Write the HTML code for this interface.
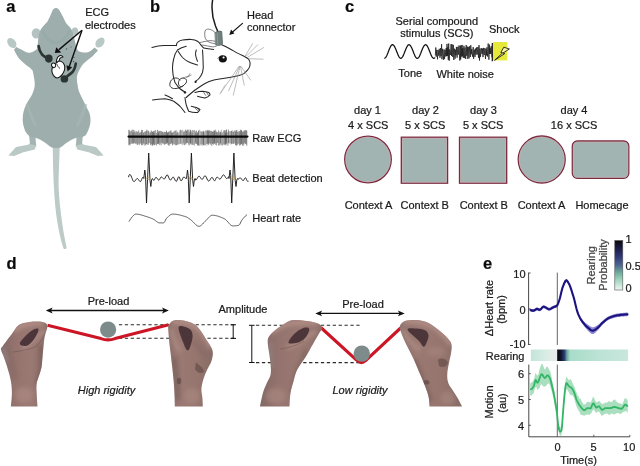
<!DOCTYPE html>
<html><head><meta charset="utf-8">
<style>
html,body{margin:0;padding:0;background:#fff;}
body{width:640px;height:466px;overflow:hidden;}
svg{display:block;will-change:transform;filter:blur(0.3px);}
text{font-family:"Liberation Sans",sans-serif;fill:#1a1a1a;stroke:#1a1a1a;stroke-width:0.22px;}
.lbl{font-weight:bold;font-size:16.5px;fill:#0a0a0a;}
.t11{font-size:11px;}
.t10{font-size:10px;}
</style></head><body>
<svg width="640" height="466" viewBox="0 0 640 466">
<!-- ===== Panel a ===== -->
<g id="pa">
  <!-- ears (behind) -->
  <ellipse cx="36.2" cy="33.4" rx="4.5" ry="5.2" fill="#b4c3c1"/>
  <ellipse cx="75" cy="31.6" rx="3.3" ry="4" fill="#b4c3c1"/>
  <!-- tail -->
  <path d="M52.7,146 C53,165 53.4,178 53.9,187 C54.6,200 55.6,212 57.4,222.5 C59,232 61,241 63.4,248.2 C64.2,249.6 66.4,249.4 66.6,247.6 C65,240 63.2,231 62.1,222.5 C60.6,211 59,199 58.6,187 C58.6,175 59.3,160 59.8,146 Z" fill="#bccbc8"/>
  <!-- feet -->
  <path d="M29.5,143.5 L28.1,144.7 L16,147 L8.4,155.5 L14,156 L23.4,152.2 L34.7,149.4 L36.3,145.6 L36,143.5 Z" fill="#bac9c6"/>
  <path d="M82.5,143.5 L83.9,144.7 L96,147 L103.6,155.5 L98,156 L88.6,152.2 L77.3,149.4 L75.7,145.6 L76,143.5 Z" fill="#bac9c6"/>
  <path d="M29,135 L30,144 L36.1,145.6 L35.5,137 Z M83,135 L82,144 L75.9,145.6 L76.5,137 Z" fill="#a3b4b2"/>
  <!-- paws -->
  <ellipse cx="11.8" cy="43" rx="3.9" ry="5.6" fill="#b8c8c5" transform="rotate(-38 11.8 43)"/>
  <ellipse cx="100" cy="42.5" rx="3.9" ry="5.6" fill="#b8c8c5" transform="rotate(38 100 42.5)"/>
  <!-- body -->
  <path d="M56,8 C57.8,8 59.2,9.5 59.8,11 L62.6,16.1 L65.2,21.5 C66.5,24 68,25.5 69.5,26.8 C71,28.5 72,30 72.2,31.1 C73.5,35 74.5,39 75.4,42.9 C76,46 77,49 78.2,51 C82,52.5 85,52.8 87.9,52.2 C90.5,51.3 92.5,49.7 94.5,47.5 L98,50.5 C96.3,52.3 94.8,54 93.3,55.4 C91,57.5 89,59 86.8,60.8 C84.5,62.5 82.2,65 80.8,67.5 C79,70.5 77.5,73 76.8,77.2 C76.8,80 77,83 77.7,85.8 C78,89 79,91.5 80.2,94.3 C81.5,97 83,100 84.5,102.9 C86,106 87.5,109 88.8,111.5 C90,114 90.5,117 90.5,120 C90.5,123 90,126 88.8,128.7 C88,131 87,133.5 85.4,135.5 C83,137 80,137.5 77,137.5 C72,139 66,143 62,146.5 C59,148.5 53,148.5 50,146.5 C46,143 40,139 35,137.5 C32,137.5 30,137 28.7,135.5 C26,133 25,131 24.4,128.7 C23.5,126 22.7,123 22.7,120 C22.7,117 23,114 23.6,111.5 C24.5,108 25.5,105.5 27,102.9 C29,99.5 31,97 32.2,94.3 C33.5,91 34.5,88.5 34.7,85.8 C34.8,82 34.5,80 33.9,77.2 C33.5,74 33,72 32.5,70.2 C31,68.5 29.5,67.5 27.3,65.9 C25,64 23,62.5 21.3,60.8 C19.5,59 18,57.5 17,55.6 C15.8,53.5 14.8,51.5 14,49.8 L16.2,47 C18,48 20,49 22.2,50 C24,51 25.5,52 27.3,52.6 C28.5,52.9 29.7,52.9 30.8,52.6 C32,52.3 33.2,51.7 34.2,50.9 C35.3,50.2 36.3,49.5 37.2,48.7 C37.3,46.5 37.5,44.5 37.9,42.9 C38,40.5 38.2,38.5 38.5,37 C38.8,35 39.3,33 40,31.1 C40.8,29.5 41.7,28 42.7,26.8 C44.5,25 46.2,23.2 47.5,21.5 L50.2,16.1 L52.4,10.7 C53,9.3 54.3,8 56,8 Z" fill="#9daeac"/>
  <!-- subtle shading -->
  <path d="M42,30 C45,38 50,42 56,43 C62,42 67,38 70,30" fill="none" stroke="#96a8a6" stroke-width="2.5" opacity="0.5"/>
  <path d="M27,104 C30,112 32,120 36,126 M86,104 C83,112 81,120 77,126" fill="none" stroke="#a6b7b5" stroke-width="3" opacity="0.6"/>
  <!-- electrodes -->
  <path d="M38.6,46 C39,49.5 40,52 42,54.5 C43.5,56 45,57 46.5,57.5" fill="none" stroke="#2b3534" stroke-width="2.6" stroke-linecap="round"/>
  <ellipse cx="48.8" cy="58.6" rx="3.8" ry="4.1" fill="#2b3534"/>
  <path d="M75.8,63.5 C75.2,67 74.5,70 72.5,72 C71,73.5 69.5,74.5 67.5,76" fill="none" stroke="#2b3534" stroke-width="2.6" stroke-linecap="round"/>
  <ellipse cx="64.4" cy="78.9" rx="3.8" ry="3.6" fill="#2b3534"/>
  <!-- heart -->
  <g fill="#fff" stroke="#161616" stroke-width="1.05" stroke-linejoin="round">
    <path d="M56.6,63.8 C56.2,60.5 57.2,57 59.6,55.8 C61,55.2 62.6,55.6 63,57 C61.8,57 60.6,57.4 59.8,58.6 C59,60 58.8,62 59,64"/>
    <path d="M53.2,65.5 C51.6,68.5 51.6,72.5 53.4,75.4 C54.8,77.4 56.8,78.4 58.6,77.6 C61.2,76.2 63.6,73 64.6,69.6 C65.4,66.6 64.2,63 61.6,61.6 C59.6,60.6 57.6,61.4 56.6,63 C55.4,62.8 54,63.8 53.2,65.5 Z"/>
    <path d="M51.8,63.8 C51,65.6 52,67.6 54,67.6 C55.6,67.2 56.2,65.2 55.2,63.8 C54.2,62.8 52.6,62.8 51.8,63.8 Z"/>
  </g>
  <path d="M56.8,64 C57.6,66 58.4,67.5 60,68.5" fill="none" stroke="#161616" stroke-width="0.8"/>
  <!-- dots -->
  <circle cx="66.5" cy="49" r="0.7" fill="#4d5a59"/><circle cx="74" cy="57.5" r="0.7" fill="#4d5a59"/><circle cx="73.5" cy="61.5" r="0.7" fill="#4d5a59"/><circle cx="71" cy="47" r="0.6" fill="#4d5a59"/>
  <!-- arrows -->
  <path d="M82,30.3 L59,49.6" stroke="#111" stroke-width="1.4"/>
  <path d="M54.8,53 L56.3,47.2 L61.2,52.4 Z" fill="#111"/>
  <path d="M82,30.3 L69.3,66.5" stroke="#111" stroke-width="1.4"/>
  <path d="M67.6,71.6 L66.4,65.2 L72.2,67.2 Z" fill="#111"/>
  <text class="lbl" x="6.3" y="11.7">a</text>
  <text x="85.2" y="16" style="font-size:11px">ECG</text>
  <text x="84.9" y="29" style="font-size:11px">electrodes</text>
</g>

<!-- ===== Panel b ===== -->
<g id="pb" fill="none" stroke="#333" stroke-width="0.7" stroke-linecap="round">
  <text class="lbl" x="149.9" y="11.7" stroke="none">b</text>
  <!-- arrow to connector -->
  <path d="M242.5,23.4 L232,32.5" stroke="#111" stroke-width="1.1"/>
  <path d="M229.3,35 L231,29.6 L234.4,33.4 Z" fill="#111" stroke="none"/>
  <text class="t11" x="247" y="18.7" stroke="none" style="font-size:11px">Head</text>
  <text class="t11" x="247" y="31.2" stroke="none" style="font-size:11px">connector</text>
  <!-- mouse line drawing -->
  <g stroke="#262626" stroke-width="1.05">
  <path d="M151.9,47.5 C156,46.5 160,45.8 163.75,45.6 C168,45.4 172,45.5 176.25,45.6"/>
  <path d="M176.25,45.6 C176.5,43.5 177.3,42.3 178.1,41.9 C179.5,40.7 181,40.2 182.5,40 C185.5,39.5 188.5,39.3 191.25,39.4 C194,39.6 196,40.3 197.5,41.25 C198.6,42 199.4,42.8 200,43.75 C201.2,45.3 202.4,46.9 203.75,48.1 C206.5,48.8 210,49.2 213.75,49.4"/>
  <path d="M178.1,51.25 C179.5,53.5 181,55.8 182.5,57.5 C185,60 187.5,61.5 190,62.5 C192.5,63.5 195,64.3 197.5,65"/>
  <path d="M196.25,50 C195.7,51.5 195.5,53.3 195.6,55 C195.9,57 196.6,59.2 197.5,61.25"/>
  <path d="M186.25,46.25 C183,47 180,48.3 177.5,50 C175.5,52.5 174.3,55.5 173.75,58.75 C173,61.5 172.6,64.5 172.5,67.5 C172.6,70 172.8,72.5 173.1,75 C173.5,77.5 174.2,80 175,82.5 C176.5,84.8 178,87 180,88.75 C181.5,90 183.2,91.2 185,91.9"/>
  <path d="M202.5,50 C202.8,54 203.1,58 203.1,62.5 C203.6,67 203.3,70 202.5,72.5 C201.5,75 200.3,77 198.75,78.75 C197.8,79.8 196.7,80.6 195.6,81.25"/>
  <path d="M180,80 C177,76 171,78 170,83 C169,87 172,89 176,88.5 C180,88 184,86 186,83 C187.5,80.5 186,78 183,78 C180,78 178,81 178.5,84 C179,86.5 181,87.5 183,86" stroke="#2a2a2a" stroke-width="0.95"/>
  <path d="M183,78 C185,77 187,76.5 189,76 M186.25,77.5 L191.25,75 M188,77 L190,73.5" stroke="#666" stroke-width="0.6"/>
  <path d="M221.6,44.7 C224.5,46 227,47.3 229.3,48.5 C232,50 234.5,51.5 237,52.9 C239.7,54.3 242.3,55.5 244.8,56.7 C246.3,57.5 247.6,58.3 248.6,59.2 C249.5,60.4 250,61.7 250.1,63 C250.1,64.4 249.9,65.7 249.6,66.9 C249.1,68 248.5,68.9 247.7,69.8 C246.5,71.2 245.2,72.5 243.8,73.6 C242.3,74.5 240.7,75.1 239,75.6 C235.8,76.4 232.5,77 229.3,77.5 C226,78 222.8,78.5 219.7,79 C217.7,79.3 215.8,79.6 213.9,80 C210.5,81 207.5,82.2 205,83.5 C201.5,85.5 198,88 195,90 C192,92.5 189,95 186.25,97.5"/>
  <path d="M195,92.5 C197.5,91.8 200,91.3 202.5,91.25 C204.5,91.4 206.8,91.8 208.75,92.5 C209.6,93.2 210.1,94 210,95 C208.5,96.5 206.8,97.5 205,98.1 C202.5,97.8 200,97 197.5,96.25"/>
  <path d="M203.5,92 L205.5,95.3 M206.5,92.2 L208.5,95.5" stroke-width="0.6"/>
  <path d="M185,97.5 C185.2,100 185.6,102.5 186.25,105 C187,107.3 187.8,109.3 188.75,111.25 C191.5,112.3 194.5,112.8 197.5,112.5 C198.6,111.6 199.5,110.5 200,109.4 C198.8,108.6 197.5,108 196.25,107.5 C194.5,107 192.8,106.6 191.25,106.25"/>
  <path d="M195,108 L197.5,110.5 M197.5,108.5 L199.5,110.8" stroke-width="0.6"/>
  <path d="M152.5,100 C156.5,99.4 160.7,99 165,98.75 C168,99.2 171,100 173.75,101.25 C176,102.8 178,104.5 180,106.25 C181.8,108.3 183.4,110.4 185,112.5"/>
  <path d="M165,95 C167.5,96 170,97.3 172.5,98.75"/>
  <path d="M215,32.5 C212,29.5 208,28 205.5,30 C204.3,32.5 204.5,36 205.5,38.75 C207,41 208.5,42 210,42.5 C211.8,43.2 213.4,43.6 215,43.75" stroke="#555" stroke-width="0.75"/>
  <path d="M200,42.5 C203.5,41.7 206.8,41 210,40.6 C211.7,40.6 213.3,40.9 215,41.25 M202.5,45 C205.8,45.6 209.1,46.3 212.5,46.9 C213.8,46.8 215,46.5 216.25,46.25" stroke="#555" stroke-width="0.75"/>
  <path d="M217.8,58.2 C219,57 220.5,56 222,56" stroke-width="0.6"/>
  </g>
  <circle cx="195.6" cy="81.9" r="1.1" fill="#222" stroke="none"/>
  <circle cx="185" cy="92.4" r="1.2" fill="#222" stroke="none"/>
  <!-- cable -->
  <path d="M212.6,0 C211.3,8 212.5,18 215.5,26 C216.6,28.5 217.5,30.5 218.2,32.5" stroke="#1c1c1c" stroke-width="1.5"/>
  <!-- connector -->
  <path d="M215.2,32.6 C216.5,31.2 220,30.6 221.8,31.6 L222.6,43.8 C221,45.6 217.4,46 215.8,45 Z" fill="#6f807d" stroke="#4c5856" stroke-width="0.6"/><path d="M217.2,33 L217.8,44.5" stroke="#8a9a97" stroke-width="1"/>
  <!-- eye -->
  <ellipse cx="222.8" cy="58.8" rx="4.1" ry="3.6" fill="#111" stroke="none"/>
  <circle cx="223.6" cy="57.5" r="1.1" fill="#fff" stroke="none"/>
  <!-- whiskers -->
  <g stroke="#888" stroke-width="0.55">
    <path d="M245.3,55.8 L252.5,43.7 M246.2,56.3 L257.8,44.7 M247.7,57.2 L263.6,47.6 M248.6,58.7 L263.1,59.2"/>
    <path d="M239,66.4 L220.5,93.3 M239.5,66.4 L228.7,90.6 M240,66.4 L233.3,95.1 M240.5,66.4 L244.2,85.1 M241,66.4 L250.6,80"/>
  </g>
  <path d="M220,93.75 L225,85" stroke="#999" stroke-width="0.5"/>
  <!-- ECG traces -->
  <g><path d="M128.60,130.3 L128.60,144.7" stroke="rgb(118,118,118)" stroke-width="0.6"/><path d="M129.37,130.3 L129.37,144.1" stroke="rgb(82,82,82)" stroke-width="0.6"/><path d="M129.91,132.4 L129.91,145.1" stroke="rgb(73,73,73)" stroke-width="0.6"/><path d="M130.64,131.4 L130.64,143.6" stroke="rgb(111,111,111)" stroke-width="0.6"/><path d="M131.62,130.9 L131.62,143.4" stroke="rgb(106,106,106)" stroke-width="0.6"/><path d="M132.23,130.0 L132.23,142.4" stroke="rgb(62,62,62)" stroke-width="0.6"/><path d="M132.85,132.9 L132.85,143.6" stroke="rgb(81,81,81)" stroke-width="0.6"/><path d="M133.73,130.1 L133.73,143.2" stroke="rgb(71,71,71)" stroke-width="0.6"/><path d="M134.23,132.1 L134.23,142.5" stroke="rgb(52,52,52)" stroke-width="0.6"/><path d="M135.02,131.0 L135.02,143.1" stroke="rgb(109,109,109)" stroke-width="0.6"/><path d="M135.59,132.7 L135.59,143.4" stroke="rgb(105,105,105)" stroke-width="0.6"/><path d="M136.50,131.4 L136.50,143.1" stroke="rgb(126,126,126)" stroke-width="0.6"/><path d="M137.00,132.7 L137.00,144.2" stroke="rgb(82,82,82)" stroke-width="0.6"/><path d="M137.53,132.2 L137.53,144.6" stroke="rgb(125,125,125)" stroke-width="0.6"/><path d="M138.13,131.8 L138.13,144.2" stroke="rgb(97,97,97)" stroke-width="0.6"/><path d="M138.69,130.6 L138.69,143.1" stroke="rgb(112,112,112)" stroke-width="0.6"/><path d="M139.45,132.9 L139.45,144.8" stroke="rgb(123,123,123)" stroke-width="0.6"/><path d="M140.00,133.1 L140.00,143.5" stroke="rgb(96,96,96)" stroke-width="0.6"/><path d="M140.98,132.5 L140.98,143.0" stroke="rgb(35,35,35)" stroke-width="0.6"/><path d="M141.63,130.3 L141.63,144.9" stroke="rgb(53,53,53)" stroke-width="0.6"/><path d="M142.56,130.4 L142.56,144.6" stroke="rgb(84,84,84)" stroke-width="0.6"/><path d="M143.47,133.1 L143.47,143.2" stroke="rgb(53,53,53)" stroke-width="0.6"/><path d="M144.22,132.3 L144.22,145.3" stroke="rgb(104,104,104)" stroke-width="0.6"/><path d="M144.87,131.9 L144.87,143.4" stroke="rgb(103,103,103)" stroke-width="0.6"/><path d="M145.61,131.8 L145.61,144.9" stroke="rgb(84,84,84)" stroke-width="0.6"/><path d="M146.13,131.5 L146.13,143.8" stroke="rgb(115,115,115)" stroke-width="0.6"/><path d="M146.80,130.1 L146.80,143.8" stroke="rgb(52,52,52)" stroke-width="0.6"/><path d="M147.66,131.2 L147.66,144.3" stroke="rgb(130,130,130)" stroke-width="0.6"/><path d="M148.32,131.1 L148.32,144.4" stroke="rgb(82,82,82)" stroke-width="0.6"/><path d="M148.82,131.7 L148.82,142.6" stroke="rgb(91,91,91)" stroke-width="0.6"/><path d="M149.68,133.0 L149.68,142.8" stroke="rgb(111,111,111)" stroke-width="0.6"/><path d="M150.58,132.6 L150.58,144.7" stroke="rgb(83,83,83)" stroke-width="0.6"/><path d="M151.22,130.8 L151.22,143.7" stroke="rgb(64,64,64)" stroke-width="0.6"/><path d="M152.01,131.9 L152.01,145.2" stroke="rgb(78,78,78)" stroke-width="0.6"/><path d="M152.67,132.3 L152.67,145.2" stroke="rgb(48,48,48)" stroke-width="0.6"/><path d="M153.40,131.3 L153.40,143.4" stroke="rgb(66,66,66)" stroke-width="0.6"/><path d="M153.96,133.0 L153.96,144.7" stroke="rgb(46,46,46)" stroke-width="0.6"/><path d="M154.57,131.1 L154.57,144.8" stroke="rgb(88,88,88)" stroke-width="0.6"/><path d="M155.53,130.4 L155.53,144.2" stroke="rgb(103,103,103)" stroke-width="0.6"/><path d="M156.47,133.2 L156.47,145.0" stroke="rgb(89,89,89)" stroke-width="0.6"/><path d="M157.40,130.2 L157.40,143.6" stroke="rgb(49,49,49)" stroke-width="0.6"/><path d="M158.28,133.0 L158.28,143.8" stroke="rgb(30,30,30)" stroke-width="0.6"/><path d="M158.76,131.3 L158.76,142.8" stroke="rgb(56,56,56)" stroke-width="0.6"/><path d="M159.58,131.3 L159.58,144.7" stroke="rgb(107,107,107)" stroke-width="0.6"/><path d="M160.20,131.2 L160.20,143.1" stroke="rgb(84,84,84)" stroke-width="0.6"/><path d="M161.08,131.7 L161.08,145.0" stroke="rgb(78,78,78)" stroke-width="0.6"/><path d="M162.01,131.8 L162.01,142.4" stroke="rgb(30,30,30)" stroke-width="0.6"/><path d="M162.65,132.5 L162.65,143.3" stroke="rgb(91,91,91)" stroke-width="0.6"/><path d="M163.46,132.8 L163.46,143.3" stroke="rgb(90,90,90)" stroke-width="0.6"/><path d="M164.22,132.1 L164.22,144.5" stroke="rgb(103,103,103)" stroke-width="0.6"/><path d="M165.01,132.5 L165.01,144.0" stroke="rgb(32,32,32)" stroke-width="0.6"/><path d="M165.76,132.7 L165.76,143.5" stroke="rgb(100,100,100)" stroke-width="0.6"/><path d="M166.42,131.1 L166.42,143.2" stroke="rgb(38,38,38)" stroke-width="0.6"/><path d="M167.35,132.8 L167.35,142.4" stroke="rgb(44,44,44)" stroke-width="0.6"/><path d="M167.86,132.9 L167.86,144.2" stroke="rgb(59,59,59)" stroke-width="0.6"/><path d="M168.52,132.1 L168.52,145.0" stroke="rgb(83,83,83)" stroke-width="0.6"/><path d="M169.33,132.3 L169.33,145.5" stroke="rgb(119,119,119)" stroke-width="0.6"/><path d="M170.02,131.4 L170.02,143.7" stroke="rgb(60,60,60)" stroke-width="0.6"/><path d="M170.96,130.7 L170.96,143.8" stroke="rgb(48,48,48)" stroke-width="0.6"/><path d="M171.75,132.9 L171.75,142.7" stroke="rgb(44,44,44)" stroke-width="0.6"/><path d="M172.54,132.9 L172.54,144.9" stroke="rgb(75,75,75)" stroke-width="0.6"/><path d="M173.38,132.4 L173.38,144.1" stroke="rgb(100,100,100)" stroke-width="0.6"/><path d="M174.20,131.1 L174.20,143.4" stroke="rgb(93,93,93)" stroke-width="0.6"/><path d="M175.04,131.6 L175.04,144.4" stroke="rgb(77,77,77)" stroke-width="0.6"/><path d="M175.99,130.6 L175.99,145.0" stroke="rgb(31,31,31)" stroke-width="0.6"/><path d="M176.91,133.2 L176.91,144.7" stroke="rgb(59,59,59)" stroke-width="0.6"/><path d="M177.47,131.9 L177.47,143.9" stroke="rgb(120,120,120)" stroke-width="0.6"/><path d="M178.04,132.8 L178.04,144.0" stroke="rgb(118,118,118)" stroke-width="0.6"/><path d="M178.93,132.9 L178.93,143.9" stroke="rgb(97,97,97)" stroke-width="0.6"/><path d="M179.69,130.6 L179.69,143.9" stroke="rgb(131,131,131)" stroke-width="0.6"/><path d="M180.64,130.1 L180.64,143.4" stroke="rgb(65,65,65)" stroke-width="0.6"/><path d="M181.16,130.4 L181.16,143.0" stroke="rgb(135,135,135)" stroke-width="0.6"/><path d="M181.90,131.2 L181.90,143.9" stroke="rgb(121,121,121)" stroke-width="0.6"/><path d="M182.76,130.2 L182.76,144.8" stroke="rgb(125,125,125)" stroke-width="0.6"/><path d="M183.48,132.1 L183.48,143.0" stroke="rgb(100,100,100)" stroke-width="0.6"/><path d="M184.33,131.7 L184.33,144.8" stroke="rgb(50,50,50)" stroke-width="0.6"/><path d="M185.33,130.0 L185.33,143.3" stroke="rgb(126,126,126)" stroke-width="0.6"/><path d="M185.91,130.2 L185.91,144.2" stroke="rgb(66,66,66)" stroke-width="0.6"/><path d="M186.61,131.4 L186.61,142.5" stroke="rgb(43,43,43)" stroke-width="0.6"/><path d="M187.58,130.1 L187.58,142.5" stroke="rgb(66,66,66)" stroke-width="0.6"/><path d="M188.43,130.0 L188.43,144.1" stroke="rgb(104,104,104)" stroke-width="0.6"/><path d="M189.23,132.6 L189.23,145.0" stroke="rgb(74,74,74)" stroke-width="0.6"/><path d="M190.01,130.1 L190.01,142.8" stroke="rgb(75,75,75)" stroke-width="0.6"/><path d="M190.60,130.7 L190.60,143.4" stroke="rgb(35,35,35)" stroke-width="0.6"/><path d="M191.18,131.0 L191.18,144.7" stroke="rgb(110,110,110)" stroke-width="0.6"/><path d="M191.96,132.9 L191.96,143.3" stroke="rgb(62,62,62)" stroke-width="0.6"/><path d="M192.59,130.4 L192.59,144.7" stroke="rgb(96,96,96)" stroke-width="0.6"/><path d="M193.44,130.9 L193.44,144.4" stroke="rgb(118,118,118)" stroke-width="0.6"/><path d="M194.42,130.3 L194.42,145.3" stroke="rgb(113,113,113)" stroke-width="0.6"/><path d="M195.14,131.4 L195.14,143.5" stroke="rgb(113,113,113)" stroke-width="0.6"/><path d="M195.63,133.1 L195.63,142.4" stroke="rgb(75,75,75)" stroke-width="0.6"/><path d="M196.34,130.9 L196.34,143.6" stroke="rgb(52,52,52)" stroke-width="0.6"/><path d="M197.08,132.9 L197.08,143.9" stroke="rgb(120,120,120)" stroke-width="0.6"/><path d="M197.63,132.8 L197.63,145.1" stroke="rgb(53,53,53)" stroke-width="0.6"/><path d="M198.47,131.0 L198.47,145.1" stroke="rgb(39,39,39)" stroke-width="0.6"/><path d="M199.36,130.1 L199.36,145.3" stroke="rgb(134,134,134)" stroke-width="0.6"/><path d="M200.24,131.2 L200.24,144.9" stroke="rgb(125,125,125)" stroke-width="0.6"/><path d="M201.12,132.1 L201.12,143.8" stroke="rgb(87,87,87)" stroke-width="0.6"/><path d="M202.11,131.7 L202.11,145.2" stroke="rgb(38,38,38)" stroke-width="0.6"/><path d="M202.89,132.3 L202.89,143.5" stroke="rgb(111,111,111)" stroke-width="0.6"/><path d="M203.50,131.2 L203.50,144.7" stroke="rgb(70,70,70)" stroke-width="0.6"/><path d="M204.10,132.7 L204.10,145.0" stroke="rgb(52,52,52)" stroke-width="0.6"/><path d="M204.94,131.3 L204.94,144.4" stroke="rgb(137,137,137)" stroke-width="0.6"/><path d="M205.88,130.7 L205.88,145.0" stroke="rgb(84,84,84)" stroke-width="0.6"/><path d="M206.65,131.1 L206.65,143.6" stroke="rgb(104,104,104)" stroke-width="0.6"/><path d="M207.55,130.8 L207.55,143.4" stroke="rgb(36,36,36)" stroke-width="0.6"/><path d="M208.03,130.2 L208.03,145.1" stroke="rgb(115,115,115)" stroke-width="0.6"/><path d="M208.69,131.6 L208.69,144.1" stroke="rgb(52,52,52)" stroke-width="0.6"/><path d="M209.16,130.6 L209.16,142.8" stroke="rgb(67,67,67)" stroke-width="0.6"/><path d="M209.84,130.8 L209.84,143.1" stroke="rgb(107,107,107)" stroke-width="0.6"/><path d="M210.50,131.6 L210.50,144.2" stroke="rgb(93,93,93)" stroke-width="0.6"/><path d="M211.28,131.8 L211.28,142.6" stroke="rgb(134,134,134)" stroke-width="0.6"/><path d="M211.76,131.2 L211.76,145.4" stroke="rgb(71,71,71)" stroke-width="0.6"/><path d="M212.65,132.2 L212.65,143.7" stroke="rgb(39,39,39)" stroke-width="0.6"/><path d="M213.55,132.0 L213.55,144.5" stroke="rgb(116,116,116)" stroke-width="0.6"/><path d="M214.02,130.6 L214.02,143.0" stroke="rgb(35,35,35)" stroke-width="0.6"/><path d="M214.54,131.6 L214.54,143.2" stroke="rgb(94,94,94)" stroke-width="0.6"/><path d="M215.01,130.9 L215.01,143.2" stroke="rgb(68,68,68)" stroke-width="0.6"/><path d="M215.57,130.0 L215.57,144.7" stroke="rgb(132,132,132)" stroke-width="0.6"/><path d="M216.04,131.8 L216.04,142.6" stroke="rgb(107,107,107)" stroke-width="0.6"/><path d="M216.65,132.1 L216.65,145.1" stroke="rgb(84,84,84)" stroke-width="0.6"/><path d="M217.24,132.8 L217.24,142.7" stroke="rgb(113,113,113)" stroke-width="0.6"/><path d="M217.90,132.6 L217.90,142.4" stroke="rgb(70,70,70)" stroke-width="0.6"/><path d="M218.64,130.5 L218.64,145.2" stroke="rgb(109,109,109)" stroke-width="0.6"/><path d="M219.12,131.9 L219.12,145.1" stroke="rgb(103,103,103)" stroke-width="0.6"/><path d="M219.99,133.0 L219.99,144.3" stroke="rgb(72,72,72)" stroke-width="0.6"/><path d="M220.66,132.3 L220.66,143.0" stroke="rgb(42,42,42)" stroke-width="0.6"/><path d="M221.28,130.2 L221.28,144.7" stroke="rgb(110,110,110)" stroke-width="0.6"/><path d="M222.25,133.1 L222.25,145.3" stroke="rgb(74,74,74)" stroke-width="0.6"/><path d="M223.18,131.6 L223.18,144.4" stroke="rgb(116,116,116)" stroke-width="0.6"/><path d="M224.11,130.5 L224.11,143.8" stroke="rgb(46,46,46)" stroke-width="0.6"/><path d="M224.65,131.7 L224.65,144.7" stroke="rgb(118,118,118)" stroke-width="0.6"/><path d="M225.31,130.6 L225.31,143.5" stroke="rgb(58,58,58)" stroke-width="0.6"/><path d="M225.79,133.2 L225.79,144.9" stroke="rgb(44,44,44)" stroke-width="0.6"/><path d="M226.51,130.0 L226.51,143.0" stroke="rgb(38,38,38)" stroke-width="0.6"/><path d="M226.98,133.1 L226.98,143.8" stroke="rgb(132,132,132)" stroke-width="0.6"/><path d="M227.92,132.3 L227.92,145.4" stroke="rgb(100,100,100)" stroke-width="0.6"/><path d="M228.41,130.0 L228.41,142.8" stroke="rgb(63,63,63)" stroke-width="0.6"/><path d="M229.27,131.7 L229.27,143.0" stroke="rgb(100,100,100)" stroke-width="0.6"/><path d="M230.25,131.5 L230.25,142.8" stroke="rgb(120,120,120)" stroke-width="0.6"/><path d="M231.03,131.6 L231.03,144.1" stroke="rgb(101,101,101)" stroke-width="0.6"/><path d="M231.58,131.4 L231.58,143.4" stroke="rgb(63,63,63)" stroke-width="0.6"/><path d="M232.15,130.3 L232.15,142.9" stroke="rgb(126,126,126)" stroke-width="0.6"/><path d="M233.06,132.3 L233.06,143.6" stroke="rgb(36,36,36)" stroke-width="0.6"/><path d="M234.00,131.5 L234.00,143.3" stroke="rgb(43,43,43)" stroke-width="0.6"/><path d="M234.86,130.5 L234.86,142.4" stroke="rgb(108,108,108)" stroke-width="0.6"/><path d="M235.60,132.1 L235.60,144.8" stroke="rgb(84,84,84)" stroke-width="0.6"/><path d="M236.09,130.9 L236.09,144.6" stroke="rgb(48,48,48)" stroke-width="0.6"/><path d="M236.77,130.2 L236.77,145.4" stroke="rgb(66,66,66)" stroke-width="0.6"/><path d="M237.77,132.3 L237.77,144.1" stroke="rgb(51,51,51)" stroke-width="0.6"/><path d="M238.29,131.3 L238.29,143.4" stroke="rgb(120,120,120)" stroke-width="0.6"/><path d="M238.99,132.7 L238.99,142.9" stroke="rgb(123,123,123)" stroke-width="0.6"/><path d="M239.62,131.5 L239.62,145.0" stroke="rgb(94,94,94)" stroke-width="0.6"/><path d="M240.10,131.5 L240.10,145.0" stroke="rgb(82,82,82)" stroke-width="0.6"/><path d="M240.65,130.0 L240.65,144.2" stroke="rgb(77,77,77)" stroke-width="0.6"/><path d="M241.39,130.4 L241.39,143.9" stroke="rgb(62,62,62)" stroke-width="0.6"/><path d="M241.89,131.3 L241.89,143.4" stroke="rgb(63,63,63)" stroke-width="0.6"/><path d="M242.73,132.5 L242.73,145.5" stroke="rgb(53,53,53)" stroke-width="0.6"/><path d="M243.34,131.9 L243.34,143.9" stroke="rgb(92,92,92)" stroke-width="0.6"/><path d="M243.83,130.9 L243.83,145.0" stroke="rgb(112,112,112)" stroke-width="0.6"/><path d="M244.65,131.0 L244.65,142.7" stroke="rgb(44,44,44)" stroke-width="0.6"/><path d="M245.11,131.2 L245.11,143.4" stroke="rgb(134,134,134)" stroke-width="0.6"/><path d="M245.84,130.4 L245.84,143.6" stroke="rgb(31,31,31)" stroke-width="0.6"/><path d="M246.74,131.0 L246.74,145.2" stroke="rgb(46,46,46)" stroke-width="0.6"/></g>
<path d="M128.6,136.6 L247.4,136.6" stroke="#0a0a0a" stroke-width="2.3"/>
<path d="M128.6,176.8 L129.1,175.2 L129.6,174.5 L130.1,174.5 L130.6,175.1 L131.1,176.0 L131.6,177.2 L132.1,178.6 L132.6,179.8 L133.1,180.8 L133.6,181.4 L134.1,181.6 L134.6,181.3 L135.1,180.8 L135.6,180.1 L136.1,179.4 L136.6,178.8 L137.1,178.5 L137.6,178.6 L138.1,179.1 L138.6,179.7 L139.1,180.5 L139.6,181.2 L140.1,181.5 L140.6,181.5 L141.1,180.8 L141.6,179.7 L142.1,178.4 L142.6,177.5 L143.1,177.3 L143.6,178.3 L143.8,178.5 L144.8,170.0 L145.5,175.5 L146.5,203.0 L148.7,153.0 L150.0,180.5 L150.8,186.5 L151.6,180.0 L152.4,178.5 L153.1,179.5 L153.6,180.3 L154.1,180.2 L154.6,179.4 L155.1,178.4 L155.6,177.6 L156.1,177.4 L156.6,177.7 L157.1,178.3 L157.6,179.0 L158.1,179.7 L158.6,180.1 L159.1,180.1 L159.6,179.5 L160.1,178.5 L160.6,177.6 L161.1,177.0 L161.6,177.0 L162.1,177.3 L162.6,177.9 L163.1,178.4 L163.6,178.9 L164.1,179.1 L164.6,178.8 L165.1,178.1 L165.6,177.0 L166.1,176.0 L166.6,175.2 L167.1,174.8 L167.6,175.1 L168.1,176.0 L168.6,177.1 L169.1,178.3 L169.6,179.4 L170.1,180.0 L170.6,180.1 L171.1,179.6 L171.6,178.8 L172.1,177.9 L172.6,177.3 L173.1,177.0 L173.6,177.3 L174.1,178.1 L174.6,179.1 L175.1,180.1 L175.6,180.9 L176.1,181.4 L176.6,181.2 L177.1,180.3 L177.6,178.9 L178.1,177.6 L178.6,176.8 L179.1,176.9 L179.6,177.9 L180.1,179.3 L180.6,180.4 L181.1,180.9 L181.6,180.6 L182.1,179.8 L182.6,178.7 L183.1,177.7 L183.6,177.1 L184.1,177.0 L184.6,177.4 L185.1,178.0 L185.6,178.4 L186.1,178.6 L186.5,178.5 L187.5,170.0 L188.2,175.5 L189.2,203.0 L191.4,153.0 L192.7,180.5 L193.5,186.5 L194.3,180.0 L195.1,178.5 L195.6,180.1 L196.1,180.0 L196.6,179.4 L197.1,178.6 L197.6,177.7 L198.1,176.9 L198.6,176.3 L199.1,176.2 L199.6,176.5 L200.1,177.1 L200.6,177.8 L201.1,178.6 L201.6,179.2 L202.1,179.4 L202.6,179.1 L203.1,178.4 L203.6,177.5 L204.1,176.6 L204.6,175.9 L205.1,175.8 L205.6,176.1 L206.1,176.9 L206.6,177.9 L207.1,179.0 L207.6,180.0 L208.1,180.7 L208.6,181.1 L209.1,181.0 L209.6,180.5 L210.1,179.7 L210.6,178.8 L211.1,178.0 L211.6,177.5 L212.1,177.4 L212.6,177.8 L213.1,178.7 L213.6,179.7 L214.1,180.5 L214.6,180.9 L215.1,180.4 L215.6,179.4 L216.1,178.2 L216.6,177.4 L217.1,177.1 L217.6,177.2 L218.1,177.7 L218.6,178.2 L219.1,178.8 L219.6,179.1 L220.1,179.1 L220.6,178.7 L221.1,178.0 L221.6,177.2 L222.1,176.3 L222.6,175.5 L223.1,175.0 L223.6,174.8 L224.1,175.1 L224.6,175.8 L225.1,176.6 L225.6,177.5 L226.1,178.2 L226.6,178.6 L227.1,178.6 L227.6,178.1 L228.1,177.4 L228.6,176.7 L229.0,178.5 L230.0,170.0 L230.7,175.5 L231.7,203.0 L233.9,153.0 L235.2,180.5 L236.0,186.5 L236.8,180.0 L237.6,178.5 L238.1,179.4 L238.6,179.0 L239.1,178.5 L239.6,177.9 L240.1,177.8 L240.6,178.0 L241.1,178.5 L241.6,179.2 L242.1,179.9 L242.6,180.4 L243.1,180.6 L243.6,180.4 L244.1,179.6 L244.6,178.6 L245.1,177.9 L245.6,177.8 L246.1,178.5 L246.6,179.6 L247.1,180.7 L247.6,181.4 L248.1,181.3" stroke="#1a1a1a" stroke-width="0.95" fill="none" stroke-linejoin="round"/>
<circle cx="148.10000000000002" cy="178.3" r="1.3" fill="none" stroke="#b8913a" stroke-width="0.6"/>
<circle cx="190.8" cy="178.3" r="1.3" fill="none" stroke="#b8913a" stroke-width="0.6"/>
<circle cx="233.3" cy="178.3" r="1.3" fill="none" stroke="#b8913a" stroke-width="0.6"/>
<path d="M129.1,221.3 L129.8,220.2 L130.5,219.2 L131.2,218.2 L131.9,217.2 L132.6,216.4 L133.3,215.6 L134.0,215.0 L134.7,214.5 L135.4,214.2 L136.1,214.1 L136.8,214.1 L137.5,214.2 L138.2,214.3 L138.9,214.4 L139.6,214.5 L140.3,214.7 L141.0,214.9 L141.7,215.1 L142.4,215.3 L143.1,215.5 L143.8,215.7 L144.5,216.0 L145.2,216.2 L145.9,216.4 L146.6,216.6 L147.3,216.8 L148.0,217.0 L148.7,217.3 L149.4,217.5 L150.1,217.8 L150.8,218.1 L151.5,218.4 L152.2,218.7 L152.9,219.0 L153.6,219.3 L154.3,219.7 L155.0,220.2 L155.7,220.8 L156.4,221.4 L157.1,221.9 L157.8,222.4 L158.5,222.7 L159.2,222.9 L159.9,222.9 L160.6,222.9 L161.3,222.9 L162.0,222.9 L162.7,222.9 L163.4,222.9 L164.1,222.6 L164.8,221.5 L165.5,220.1 L166.2,218.7 L166.9,217.9 L167.6,217.2 L168.3,216.6 L169.0,215.9 L169.7,215.4 L170.4,214.9 L171.1,214.5 L171.8,214.2 L172.5,214.1 L173.2,214.1 L173.9,214.1 L174.6,214.2 L175.3,214.2 L176.0,214.3 L176.7,214.4 L177.4,214.5 L178.1,214.7 L178.8,214.8 L179.5,214.9 L180.2,215.1 L180.9,215.3 L181.6,215.5 L182.3,215.7 L183.0,215.9 L183.7,216.1 L184.4,216.3 L185.1,216.5 L185.8,216.8 L186.5,217.0 L187.2,217.4 L187.9,217.8 L188.6,218.3 L189.3,218.7 L190.0,219.2 L190.7,219.7 L191.4,220.3 L192.1,221.0 L192.8,221.7 L193.5,222.4 L194.2,223.1 L194.9,223.8 L195.6,224.5 L196.3,225.1 L197.0,225.6 L197.7,226.0 L198.4,226.2 L199.1,226.3 L199.8,226.2 L200.5,225.8 L201.2,225.3 L201.9,224.7 L202.6,224.0 L203.3,223.2 L204.0,222.5 L204.7,221.7 L205.4,221.1 L206.1,220.5 L206.8,219.7 L207.5,218.9 L208.2,218.1 L208.9,217.3 L209.6,216.6 L210.3,216.0 L211.0,215.6 L211.7,215.3 L212.4,215.2 L213.1,215.2 L213.8,215.3 L214.5,215.4 L215.2,215.5 L215.9,215.6 L216.6,215.8 L217.3,216.0 L218.0,216.2 L218.7,216.4 L219.4,216.7 L220.1,216.9 L220.8,217.2 L221.5,217.5 L222.2,217.8 L222.9,218.1 L223.6,218.4 L224.3,218.7 L225.0,219.1 L225.7,219.6 L226.4,220.3 L227.1,221.0 L227.8,221.9 L228.5,222.7 L229.2,223.5 L229.9,224.3 L230.6,224.9 L231.3,225.4 L232.0,225.8 L232.7,225.9 L233.4,225.9 L234.1,225.9 L234.8,225.8 L235.5,225.8 L236.2,225.7 L236.9,225.6 L237.6,225.5 L238.3,225.4 L239.0,225.2 L239.7,224.4 L240.4,223.0 L241.1,221.4 L241.8,220.2 L242.5,219.3 L243.2,218.4 L243.9,217.6 L244.6,216.8 L245.3,216.1 L246.0,215.5 L246.7,214.9" stroke="#4a4a4a" stroke-width="0.9" fill="none"/>
  <text class="t11" x="252.3" y="142.2" stroke="none" style="font-size:11px">Raw ECG</text>
  <text class="t11" x="252.3" y="182.3" stroke="none" style="font-size:11px">Beat detection</text>
  <text class="t11" x="252.3" y="222.4" stroke="none" style="font-size:11px">Heart rate</text>
</g>

<!-- ===== Panel c ===== -->
<g id="pc">
  <text class="lbl" x="345" y="12.4">c</text>
  <text x="436.8" y="25" text-anchor="middle" style="font-size:11px">Serial compound</text>
  <text x="436.8" y="37" text-anchor="middle" style="font-size:11px">stimulus (SCS)</text>
  <text x="504.3" y="33.2" text-anchor="middle" style="font-size:11px">Shock</text>
  <path d="M384.3,58.3 L384.7,58.2 L385.1,58.0 L385.5,57.6 L385.9,57.1 L386.3,56.4 L386.7,55.7 L387.1,54.8 L387.5,53.8 L387.9,52.9 L388.3,51.8 L388.7,50.8 L389.1,49.8 L389.5,48.8 L389.9,47.9 L390.3,47.0 L390.7,46.3 L391.1,45.7 L391.5,45.2 L391.9,44.9 L392.3,44.7 L392.7,44.7 L393.1,44.8 L393.5,45.1 L393.9,45.6 L394.3,46.2 L394.7,46.9 L395.1,47.7 L395.5,48.6 L395.9,49.5 L396.3,50.5 L396.7,51.6 L397.1,52.6 L397.5,53.6 L397.9,54.6 L398.3,55.4 L398.7,56.2 L399.1,56.9 L399.5,57.5 L399.9,57.9 L400.3,58.2 L400.7,58.3 L401.1,58.3 L401.5,58.1 L401.9,57.7 L402.3,57.2 L402.7,56.6 L403.1,55.9 L403.5,55.0 L403.9,54.1 L404.3,53.1 L404.7,52.1 L405.1,51.0 L405.5,50.0 L405.9,49.0 L406.3,48.1 L406.7,47.2 L407.1,46.5 L407.5,45.9 L407.9,45.3 L408.3,45.0 L408.7,44.8 L409.1,44.7 L409.5,44.8 L409.9,45.1 L410.3,45.5 L410.7,46.0 L411.1,46.7 L411.5,47.5 L411.9,48.3 L412.3,49.3 L412.7,50.3 L413.1,51.3 L413.5,52.3 L413.9,53.4 L414.3,54.3 L414.7,55.2 L415.1,56.1 L415.5,56.8 L415.9,57.4 L416.3,57.8 L416.7,58.1 L417.1,58.3 L417.5,58.3 L417.9,58.1 L418.3,57.8 L418.7,57.4 L419.1,56.8 L419.5,56.1 L419.9,55.2 L420.3,54.3 L420.7,53.4 L421.1,52.3 L421.5,51.3 L421.9,50.3 L422.3,49.3 L422.7,48.3 L423.1,47.5 L423.5,46.7 L423.9,46.0 L424.3,45.5 L424.7,45.1 L425.1,44.8 L425.5,44.7 L425.9,44.8 L426.3,45.0 L426.7,45.3 L427.1,45.9 L427.5,46.5 L427.9,47.2 L428.3,48.1 L428.7,49.0 L429.1,50.0 L429.5,51.0 L429.9,52.1 L430.3,53.1 L430.7,54.1 L431.1,55.0 L431.5,55.9 L431.9,56.6 L432.3,57.2 L432.7,57.7 L433.1,58.1 L433.5,58.3 L433.9,58.3 L434.3,58.2 L434.7,57.9 L435.1,57.5" stroke="#111" stroke-width="1.25" fill="none"/>
  <path d="M435.3,55.4 L435.8,47.5 L436.2,56.7 L436.8,49.9 L437.5,59.3 L438.0,50.0 L438.7,55.7 L439.2,48.9 L440.0,57.8 L440.4,48.1 L441.0,56.0 L441.6,44.2 L441.9,59.2 L442.6,48.8 L443.4,59.8 L444.0,49.4 L444.5,59.1 L445.1,49.8 L445.8,56.5 L446.2,48.0 L446.6,56.1 L447.0,43.9 L447.4,55.9 L447.8,47.2 L448.3,59.8 L448.7,43.5 L449.2,60.7 L449.7,49.5 L450.4,55.0 L451.1,44.0 L451.5,56.0 L452.1,44.3 L452.8,57.0 L453.3,44.9 L453.8,60.0 L454.5,48.7 L455.1,58.7 L455.7,49.7 L456.0,55.3 L456.4,46.9 L457.1,57.7 L457.8,46.8 L458.3,54.7 L459.0,45.5 L459.8,60.5 L460.2,45.8 L460.7,59.4 L461.1,45.2 L461.7,56.7 L462.1,44.9 L462.4,56.3 L462.8,48.0 L463.3,57.9 L463.9,45.8 L464.4,58.1 L465.0,47.5 L465.7,59.0 L466.2,45.0 L466.8,55.8 L467.4,46.7 L467.8,58.9 L468.3,46.8 L469.0,58.4 L469.6,46.3 L470.3,57.0 L470.8,45.2 L471.2,54.3 L471.7,49.1 L472.5,56.7 L473.2,47.1 L473.6,58.8 L474.3,49.7 L475.0,56.9 L475.4,48.5 L476.0,54.6 L476.6,47.4 L477.2,54.6 L477.9,47.0 L478.5,57.9 L479.0,45.1 L479.5,60.5 L480.0,48.6 L480.5,56.8 L481.3,48.1 L482.0,53.9 L482.4,48.5 L483.0,57.1 L483.5,47.9 L484.2,55.0 L484.9,48.0 L485.5,59.0 L486.0,49.0 L486.5,55.4 L486.9,47.3 L487.5,56.5 L488.2,43.5 L488.9,59.7 L489.4,44.6 L489.7,54.0 L490.1,47.9 L490.7,54.0 L491.2,46.2 L491.9,57.4" stroke="#151515" stroke-width="0.75" fill="none"/><path d="M492.3,43 L492.3,61.2" stroke="#111" stroke-width="1.2"/>
  <rect x="493" y="42" width="14.3" height="18.4" fill="#e6e83a"/>
  <path d="M509.4,49 L503.8,47.2 L500.8,52.6 L502.6,52.9 L494.6,60.3 L504.7,53.6 L502.9,53.1 Z" fill="#f4f4a0" stroke="#1c1c1c" stroke-width="0.9" stroke-linejoin="miter"/>
  <text x="410.3" y="76.6" text-anchor="middle" style="font-size:11px">Tone</text>
  <text x="465.2" y="77.5" text-anchor="middle" style="font-size:11px">White noise</text>
  <g style="font-size:11px" text-anchor="middle">
    <text x="367.5" y="114">day 1</text>
    <text x="425.5" y="114">day 2</text>
    <text x="483.5" y="114">day 3</text>
    <text x="574" y="114">day 4</text>
    <text x="368.3" y="128.7">4 x SCS</text>
    <text x="425.2" y="128.7">5 x SCS</text>
    <text x="483.1" y="128.7">5 x SCS</text>
    <text x="574.1" y="128.7">16 x SCS</text>
    <text x="368.5" y="209.2">Context A</text>
    <text x="424.7" y="209.2">Context B</text>
    <text x="483.8" y="209.2">Context B</text>
    <text x="541.5" y="209.2">Context A</text>
    <text x="602" y="209.2">Homecage</text>
  </g>
  <g fill="#a1b4b2" stroke="#7c2a3e" stroke-width="1.3">
    <circle cx="368" cy="159.5" r="23.3"/>
    <rect x="401.3" y="137.2" width="46.3" height="46"/>
    <rect x="459.5" y="137.2" width="47.2" height="46"/>
    <circle cx="541.7" cy="159.5" r="23.5"/>
    <rect x="572.3" y="141" width="56.5" height="37.3" rx="5" ry="5"/>
  </g>
  <g fill="none" stroke="#d9a9b3" stroke-width="0.6" opacity="0.9">
    <circle cx="368" cy="159.5" r="22.3"/>
    <rect x="402.3" y="138.2" width="44.3" height="44"/>
    <rect x="460.5" y="138.2" width="45.2" height="44"/>
    <circle cx="541.7" cy="159.5" r="22.5"/>
    <rect x="573.3" y="142" width="54.5" height="35.3" rx="4" ry="4"/>
  </g>
</g>

<!-- ===== Panel d ===== -->
<g id="pd">
  <text class="lbl" x="6.4" y="269">d</text>
  <!-- left panel -->
  <text x="108.5" y="304.8" text-anchor="middle" style="font-size:11px">Pre-load</text>
  <path d="M50,310.5 L165,310.5" stroke="#111" stroke-width="1.3"/>
  <path d="M45.8,310.5 L52.6,307.6 L51,310.5 L52.6,313.4 Z M168.8,310.5 L162,307.6 L163.6,310.5 L162,313.4 Z" fill="#111"/>
  <path d="M118.9,324.7 L236,324.7 M118.9,338.3 L236,338.3" stroke="#2a2a2a" stroke-width="1.1" stroke-dasharray="3.3,2.6"/>
  <path d="M47.5,325.2 L101,338.6 Q108,341.2 115,338.6 L168.6,324.8" fill="none" stroke="#cc1626" stroke-width="3.1" stroke-linejoin="round"/>
  <circle cx="108.1" cy="329.6" r="8.1" fill="#7d8c8b"/>
  <text x="106.5" y="393.9" text-anchor="middle" font-style="italic" style="font-size:11px">High rigidity</text>
  <!-- amplitude -->
  <text x="243" y="313.4" text-anchor="middle" style="font-size:11px">Amplitude</text>
  <path d="M233.2,324.8 L233.2,338.4 M230.5,324.8 L236,324.8 M230.5,338.4 L236,338.4" stroke="#111" stroke-width="1"/>
  <path d="M251.8,325.3 L251.8,362.5 M249,325.3 L254.6,325.3 M249,362.5 L254.6,362.5" stroke="#111" stroke-width="1"/>
  <!-- right panel -->
  <text x="363" y="307.5" text-anchor="middle" style="font-size:11px">Pre-load</text>
  <path d="M319,313.4 L401,313.4" stroke="#111" stroke-width="1.3"/>
  <path d="M315.3,313.4 L322.1,310.5 L320.5,313.4 L322.1,316.3 Z M404.7,313.4 L397.9,310.5 L399.5,313.4 L397.9,316.3 Z" fill="#111"/>
  <path d="M256,325.3 L362,325.3 M256,362.6 L362,362.6" stroke="#2a2a2a" stroke-width="1.1" stroke-dasharray="3.3,2.6"/>
  <path d="M320.8,327.5 L356.3,359.8 Q360.8,364.8 365.6,360.6 L400.6,328" fill="none" stroke="#cc1626" stroke-width="3.1" stroke-linejoin="round"/>
  <circle cx="361.8" cy="353.6" r="8.2" fill="#7d8c8b"/>
  <defs>
  <filter id="hb" x="-20%" y="-20%" width="140%" height="140%"><feGaussianBlur stdDeviation="2"/></filter>
  <linearGradient id="hg1" x1="0" y1="0" x2="1" y2="0">
    <stop offset="0" stop-color="#836864"/><stop offset="0.3" stop-color="#94736e"/><stop offset="0.65" stop-color="#9b7973"/><stop offset="1" stop-color="#8c6e69"/>
  </linearGradient>
  <linearGradient id="hg2" x1="1" y1="0" x2="0" y2="0">
    <stop offset="0" stop-color="#876c67"/><stop offset="0.35" stop-color="#96756e"/><stop offset="0.7" stop-color="#9b7973"/><stop offset="1" stop-color="#8d6f6a"/>
  </linearGradient>
</defs>
<clipPath id="hc1"><path d="M18.8,324.9 C21.8,322.9 25.7,322.5 29.6,322.0 C33.6,321.5 39.5,321.4 42.5,322.0 C45.5,322.6 47.1,323.3 47.4,325.9 C47.7,328.5 45.3,332.5 44.5,337.8 C43.7,343.1 43.0,352.6 42.5,357.5 C42.0,362.4 42.2,364.1 41.5,367.4 C40.8,370.7 39.3,374.5 38.5,377.3 C37.7,380.1 36.9,381.1 36.6,384.0 C36.3,386.9 36.6,391.2 36.8,395.0 C36.9,398.8 37.3,403.1 37.5,406.5 C29.5,406.5 18.9,406.5 10.9,406.5 C11.2,402.5 11.9,397.3 11.9,393.1 C11.9,388.9 11.6,385.1 10.9,381.2 C10.2,377.2 9.1,373.3 7.9,369.4 C6.8,365.4 5.2,360.8 4.0,357.5 C2.8,354.2 1.2,351.6 1.0,349.6 C0.8,347.6 1.2,348.3 3.0,345.7 C4.8,343.1 9.3,337.3 11.9,333.8 C14.5,330.3 15.8,326.9 18.8,324.9 Z"/></clipPath>
<g><path d="M18.8,324.9 C21.8,322.9 25.7,322.5 29.6,322.0 C33.6,321.5 39.5,321.4 42.5,322.0 C45.5,322.6 47.1,323.3 47.4,325.9 C47.7,328.5 45.3,332.5 44.5,337.8 C43.7,343.1 43.0,352.6 42.5,357.5 C42.0,362.4 42.2,364.1 41.5,367.4 C40.8,370.7 39.3,374.5 38.5,377.3 C37.7,380.1 36.9,381.1 36.6,384.0 C36.3,386.9 36.6,391.2 36.8,395.0 C36.9,398.8 37.3,403.1 37.5,406.5 C29.5,406.5 18.9,406.5 10.9,406.5 C11.2,402.5 11.9,397.3 11.9,393.1 C11.9,388.9 11.6,385.1 10.9,381.2 C10.2,377.2 9.1,373.3 7.9,369.4 C6.8,365.4 5.2,360.8 4.0,357.5 C2.8,354.2 1.2,351.6 1.0,349.6 C0.8,347.6 1.2,348.3 3.0,345.7 C4.8,343.1 9.3,337.3 11.9,333.8 C14.5,330.3 15.8,326.9 18.8,324.9 Z" fill="url(#hg1)"/>
<g clip-path="url(#hc1)"><g filter="url(#hb)">
  <path d="M14,331 C20,325 30,322.5 44,323.5" fill="none" stroke="#b8978e" stroke-width="4" opacity="0.85"/>
  <path d="M22,348 C28,345 36,338 45,330" fill="none" stroke="#b09088" stroke-width="4.5" opacity="0.8"/>
  <ellipse cx="24" cy="395" rx="9" ry="8" fill="#a98980" opacity="0.7"/>
  <path d="M41,345 L41.5,368 L37,385" fill="none" stroke="#6a514d" stroke-width="4" opacity="0.6"/>
  <path d="M8,350 C12,360 14,370 16,380" fill="none" stroke="#7a605b" stroke-width="4" opacity="0.4"/>
  <path d="M2,347 C3.5,352 5,356 7,362" fill="none" stroke="#9aa0a6" stroke-width="2.2" opacity="0.7"/>
  </g>
  <path d="M13,352 C20,351 28,350 35,347 C39,344 42,340 45,334" fill="none" stroke="#6e5550" stroke-width="1" opacity="0.5"/></g>
<path d="M19.8,343.7 C19.8,341.9 24.2,337.3 26.7,334.8 C29.2,332.3 32.6,329.7 34.6,328.9 C36.6,328.1 38.7,328.1 38.5,329.9 C38.3,331.7 35.6,337.1 33.6,339.7 C31.6,342.3 29.0,345.0 26.7,345.7 C24.4,346.4 19.8,345.5 19.8,343.7 Z" fill="#4c363a"/></g>
<clipPath id="hc2"><path d="M168.9,324.9 C169.8,323.3 171.0,321.0 173.8,320.4 C176.6,319.8 182.1,320.2 185.7,321.0 C189.3,321.8 192.9,323.1 195.5,324.9 C198.1,326.7 199.6,329.3 201.4,331.8 C203.2,334.3 204.8,337.1 206.4,339.7 C208.1,342.3 210.2,345.3 211.3,347.6 C212.4,349.9 212.9,351.2 212.9,353.5 C212.9,355.8 212.2,358.8 211.3,361.4 C210.4,364.0 208.7,366.3 207.4,369.3 C206.1,372.3 204.4,375.9 203.4,379.2 C202.4,382.5 201.6,385.9 201.4,389.0 C201.2,392.1 202.2,395.1 202.4,398.0 C202.6,400.9 202.7,403.9 202.8,406.5 C194.4,406.5 183.2,406.5 174.8,406.5 C174.7,403.1 174.7,398.9 174.5,395.0 C174.3,391.1 174.2,388.4 173.8,383.1 C173.4,377.8 172.5,369.3 171.8,363.4 C171.2,357.5 170.5,353.2 169.9,347.6 C169.3,342.0 168.5,333.6 168.3,329.8 C168.1,326.0 168.0,326.5 168.9,324.9 Z"/></clipPath>
<g><path d="M168.9,324.9 C169.8,323.3 171.0,321.0 173.8,320.4 C176.6,319.8 182.1,320.2 185.7,321.0 C189.3,321.8 192.9,323.1 195.5,324.9 C198.1,326.7 199.6,329.3 201.4,331.8 C203.2,334.3 204.8,337.1 206.4,339.7 C208.1,342.3 210.2,345.3 211.3,347.6 C212.4,349.9 212.9,351.2 212.9,353.5 C212.9,355.8 212.2,358.8 211.3,361.4 C210.4,364.0 208.7,366.3 207.4,369.3 C206.1,372.3 204.4,375.9 203.4,379.2 C202.4,382.5 201.6,385.9 201.4,389.0 C201.2,392.1 202.2,395.1 202.4,398.0 C202.6,400.9 202.7,403.9 202.8,406.5 C194.4,406.5 183.2,406.5 174.8,406.5 C174.7,403.1 174.7,398.9 174.5,395.0 C174.3,391.1 174.2,388.4 173.8,383.1 C173.4,377.8 172.5,369.3 171.8,363.4 C171.2,357.5 170.5,353.2 169.9,347.6 C169.3,342.0 168.5,333.6 168.3,329.8 C168.1,326.0 168.0,326.5 168.9,324.9 Z" fill="url(#hg2)"/>
<g clip-path="url(#hc2)"><g filter="url(#hb)">
  <path d="M172,322.5 C182,320.5 194,323 201,331 C205,337 208,342 211,348" fill="none" stroke="#b8978e" stroke-width="4" opacity="0.85"/>
  <path d="M171,328 C173,338 176,346 180,352" fill="none" stroke="#b09088" stroke-width="4.5" opacity="0.75"/>
  <path d="M174,358 L177,382 L178,400" fill="none" stroke="#6a514d" stroke-width="5" opacity="0.5"/>
  <path d="M193,340 C197,348 200,352 206,356" fill="none" stroke="#7a605b" stroke-width="3" opacity="0.45"/>
  <ellipse cx="192" cy="396" rx="8" ry="8" fill="#a98980" opacity="0.65"/>
  </g>
  <path d="M196,362 C198,365 203,366 204,372 C201,374 197,373 195,369 Z" fill="#664e49" opacity="0.7"/>
  <ellipse cx="179" cy="381" rx="2.2" ry="3.2" fill="#5f4844" opacity="0.7"/></g>
<path d="M178.7,326.9 C179.7,324.4 187.3,327.4 189.6,328.9 C191.9,330.4 192.4,333.0 192.6,335.8 C192.8,338.6 191.4,343.1 190.6,345.6 C189.8,348.1 188.8,350.9 187.6,350.6 C186.4,350.3 185.2,347.6 183.7,343.7 C182.2,339.8 177.7,329.4 178.7,326.9 Z" fill="#4c363a"/></g>
<clipPath id="hc3"><path d="M268.8,336.8 C270.1,334.5 272.9,332.1 275.7,329.8 C278.5,327.5 282.6,324.5 285.6,322.9 C288.6,321.3 289.9,320.3 293.5,320.0 C297.1,319.7 303.0,320.4 307.3,321.0 C311.6,321.6 316.6,322.8 319.1,323.9 C321.6,325.0 321.9,326.6 322.1,327.9 C322.3,329.2 321.6,329.2 320.1,331.8 C318.6,334.4 315.7,339.4 313.2,343.7 C310.7,348.0 307.9,353.2 305.3,357.5 C302.7,361.8 299.4,365.4 297.4,369.3 C295.4,373.2 294.6,377.2 293.5,381.2 C292.4,385.1 291.2,388.8 290.5,393.0 C289.8,397.2 289.8,402.4 289.5,406.5 C280.6,406.5 268.8,406.5 259.9,406.5 C260.8,402.4 261.8,396.9 262.9,393.0 C264.0,389.1 265.5,386.4 266.8,383.1 C268.1,379.8 270.3,377.6 270.8,373.3 C271.3,369.0 270.3,362.4 269.8,357.5 C269.3,352.6 268.0,347.1 267.8,343.7 C267.6,340.2 267.5,339.1 268.8,336.8 Z"/></clipPath>
<g><path d="M268.8,336.8 C270.1,334.5 272.9,332.1 275.7,329.8 C278.5,327.5 282.6,324.5 285.6,322.9 C288.6,321.3 289.9,320.3 293.5,320.0 C297.1,319.7 303.0,320.4 307.3,321.0 C311.6,321.6 316.6,322.8 319.1,323.9 C321.6,325.0 321.9,326.6 322.1,327.9 C322.3,329.2 321.6,329.2 320.1,331.8 C318.6,334.4 315.7,339.4 313.2,343.7 C310.7,348.0 307.9,353.2 305.3,357.5 C302.7,361.8 299.4,365.4 297.4,369.3 C295.4,373.2 294.6,377.2 293.5,381.2 C292.4,385.1 291.2,388.8 290.5,393.0 C289.8,397.2 289.8,402.4 289.5,406.5 C280.6,406.5 268.8,406.5 259.9,406.5 C260.8,402.4 261.8,396.9 262.9,393.0 C264.0,389.1 265.5,386.4 266.8,383.1 C268.1,379.8 270.3,377.6 270.8,373.3 C271.3,369.0 270.3,362.4 269.8,357.5 C269.3,352.6 268.0,347.1 267.8,343.7 C267.6,340.2 267.5,339.1 268.8,336.8 Z" fill="url(#hg1)"/>
<g clip-path="url(#hc3)"><g filter="url(#hb)">
  <path d="M272,333 C280,325 292,320.5 318,323.5" fill="none" stroke="#b8978e" stroke-width="4" opacity="0.85"/>
  <path d="M287,348 C296,345 306,338 316,331" fill="none" stroke="#b09088" stroke-width="4.5" opacity="0.8"/>
  <ellipse cx="276" cy="396" rx="10" ry="8" fill="#a98980" opacity="0.65"/>
  <path d="M306,350 L297,372 L292,395" fill="none" stroke="#6a514d" stroke-width="4" opacity="0.5"/>
  <path d="M269.5,342 C270.5,350 271.2,358 271,368" fill="none" stroke="#9a9ca2" stroke-width="2.2" opacity="0.6"/>
  </g>
  <path d="M280,349 C287,348 296,346 304,341" fill="none" stroke="#6e5550" stroke-width="1" opacity="0.5"/></g>
<path d="M288.5,342.7 C288.0,341.2 291.9,336.3 294.4,333.8 C296.9,331.3 300.8,328.7 303.3,327.9 C305.8,327.1 308.9,327.3 309.2,328.9 C309.5,330.5 307.3,335.4 305.3,337.7 C303.3,340.0 300.2,341.9 297.4,342.7 C294.6,343.5 289.0,344.2 288.5,342.7 Z" fill="#4c363a"/></g>
<clipPath id="hc4"><path d="M399.9,325.9 C400.6,324.1 402.1,322.0 404.9,321.0 C407.7,320.0 412.8,319.7 416.7,320.0 C420.6,320.3 425.0,321.3 428.6,322.9 C432.2,324.5 435.4,327.5 438.4,329.8 C441.3,332.1 444.1,334.5 446.3,336.8 C448.5,339.1 450.5,341.2 451.3,343.7 C452.1,346.2 451.6,348.7 451.3,351.6 C451.0,354.6 450.0,357.8 449.3,361.4 C448.6,365.0 447.5,369.7 447.3,373.3 C447.1,376.9 447.3,380.2 448.3,383.1 C449.3,386.1 451.6,388.4 453.2,391.0 C454.8,393.6 456.7,396.3 458.2,398.9 C459.7,401.5 460.9,404.2 462.1,406.5 C452.3,406.5 439.3,406.5 429.5,406.5 C429.2,403.6 429.4,400.6 428.6,397.0 C427.8,393.4 426.1,389.1 424.6,385.1 C423.1,381.2 421.5,377.6 419.7,373.3 C417.9,369.0 415.9,364.1 413.8,359.5 C411.7,354.9 409.0,350.2 406.8,345.6 C404.6,341.0 402.0,335.1 400.9,331.8 C399.8,328.5 399.2,327.7 399.9,325.9 Z"/></clipPath>
<g><path d="M399.9,325.9 C400.6,324.1 402.1,322.0 404.9,321.0 C407.7,320.0 412.8,319.7 416.7,320.0 C420.6,320.3 425.0,321.3 428.6,322.9 C432.2,324.5 435.4,327.5 438.4,329.8 C441.3,332.1 444.1,334.5 446.3,336.8 C448.5,339.1 450.5,341.2 451.3,343.7 C452.1,346.2 451.6,348.7 451.3,351.6 C451.0,354.6 450.0,357.8 449.3,361.4 C448.6,365.0 447.5,369.7 447.3,373.3 C447.1,376.9 447.3,380.2 448.3,383.1 C449.3,386.1 451.6,388.4 453.2,391.0 C454.8,393.6 456.7,396.3 458.2,398.9 C459.7,401.5 460.9,404.2 462.1,406.5 C452.3,406.5 439.3,406.5 429.5,406.5 C429.2,403.6 429.4,400.6 428.6,397.0 C427.8,393.4 426.1,389.1 424.6,385.1 C423.1,381.2 421.5,377.6 419.7,373.3 C417.9,369.0 415.9,364.1 413.8,359.5 C411.7,354.9 409.0,350.2 406.8,345.6 C404.6,341.0 402.0,335.1 400.9,331.8 C399.8,328.5 399.2,327.7 399.9,325.9 Z" fill="url(#hg2)"/>
<g clip-path="url(#hc4)"><g filter="url(#hb)">
  <path d="M403,322.5 C414,320 428,322 438,330 C444,335 448,339 451,345" fill="none" stroke="#b8978e" stroke-width="4" opacity="0.85"/>
  <path d="M402,329 C406,338 412,345 420,350" fill="none" stroke="#b09088" stroke-width="4.5" opacity="0.75"/>
  <ellipse cx="436" cy="352" rx="9" ry="5" fill="#a58580" opacity="0.6"/>
  <path d="M414,360 L424,385 L430,402" fill="none" stroke="#6a514d" stroke-width="6" opacity="0.5"/>
  <ellipse cx="448" cy="398" rx="7" ry="7" fill="#a98980" opacity="0.6"/>
  </g>
  <path d="M438,360 C441,357 447,359 448,363 C447,367 442,368 439,366 Z" fill="#664e49" opacity="0.7"/>
  <ellipse cx="426.6" cy="382.2" rx="2.8" ry="2.3" fill="#5f4844" opacity="0.7"/></g>
<path d="M407.5,329.5 C407.2,327.5 413.7,328.3 416.7,328.5 C419.7,328.7 423.5,329.3 425.5,330.5 C427.5,331.7 428.3,333.8 428.5,335.8 C428.7,337.8 427.4,340.9 426.6,342.7 C425.8,344.5 424.9,346.9 423.6,346.6 C422.3,346.3 421.4,343.6 418.7,340.7 C416.0,337.8 407.8,331.5 407.5,329.5 Z" fill="#4c363a"/></g>

  <text x="360" y="394.3" text-anchor="middle" font-style="italic" style="font-size:11px">Low rigidity</text>
</g>

<!-- ===== Panel e ===== -->
<g id="pe">
  <text class="lbl" x="483" y="269">e</text>
  <defs>
    <linearGradient id="cbar" x1="0" y1="1" x2="0" y2="0">
      <stop offset="0" stop-color="#eef7f2"/>
      <stop offset="0.2" stop-color="#a2d6c0"/>
      <stop offset="0.35" stop-color="#6fab9c"/>
      <stop offset="0.5" stop-color="#4f6790"/>
      <stop offset="0.68" stop-color="#2f3675"/>
      <stop offset="0.85" stop-color="#1a1b42"/>
      <stop offset="1" stop-color="#08080f"/>
    </linearGradient>
    <linearGradient id="rear" x1="0" y1="0" x2="1" y2="0">
      <stop offset="0" stop-color="#c4e4d9"/>
<stop offset="0.17" stop-color="#d9ede6"/>
<stop offset="0.218" stop-color="#e4ebe8"/>
<stop offset="0.267" stop-color="#e6ebea"/>
<stop offset="0.274" stop-color="#303848"/>
<stop offset="0.28" stop-color="#0a0a14"/>
<stop offset="0.31" stop-color="#10142a"/>
<stop offset="0.346" stop-color="#2a3f70"/>
<stop offset="0.372" stop-color="#70a8a0"/>
<stop offset="0.403" stop-color="#a8dcc9"/>
<stop offset="0.71" stop-color="#bde3d6"/>
<stop offset="1" stop-color="#c8e7dd"/>
    </linearGradient>
  </defs>
  <rect x="614.8" y="240.5" width="8" height="49.5" fill="url(#cbar)" stroke="#555" stroke-width="0.6"/>
  <g style="font-size:11px" fill="#333">
    <text x="625.5" y="242.8" fill="#333">1</text>
    <text x="625.5" y="270" fill="#333">0.5</text>
    <text x="625.5" y="292" fill="#333">0</text>
  </g>
  <text transform="translate(594.6,265.3) rotate(-90)" text-anchor="middle" style="font-size:11px;fill:#444;stroke:#444">Rearing</text>
  <text transform="translate(607,265) rotate(-90)" text-anchor="middle" style="font-size:11px;fill:#444;stroke:#444">Probability</text>
  <!-- HR axes -->
  <path d="M528.6,272.6 L528.6,345" stroke="#333" stroke-width="0.9"/>
  <path d="M528.6,273 L530.6,273 M528.6,308.9 L530.6,308.9 M528.6,344.5 L530.6,344.5" stroke="#333" stroke-width="0.8"/>
  <path d="M557.3,272.6 L557.3,345" stroke="#555" stroke-width="0.9"/>
  <g style="font-size:11px" text-anchor="end">
    <text x="525.6" y="278.3">10</text>
    <text x="525.6" y="314.2">0</text>
    <text x="525.6" y="348.3">-10</text>
  </g>
  <text transform="translate(492.7,308) rotate(-90)" text-anchor="middle" style="font-size:11px">&#916;Heart rate</text>
  <text transform="translate(504.8,309.5) rotate(-90)" text-anchor="middle" style="font-size:11px">(bpm)</text>
  <path d="M530.5,308.6 L531.0,308.8 L531.5,308.9 L532.0,309.0 L532.5,309.1 L533.0,309.1 L533.5,309.1 L534.0,309.0 L534.5,308.8 L535.0,308.5 L535.5,308.1 L536.0,307.8 L536.5,307.5 L537.0,307.4 L537.5,307.5 L538.0,307.7 L538.5,308.0 L539.0,308.2 L539.5,308.3 L540.0,308.2 L540.5,307.9 L541.0,307.4 L541.5,306.9 L542.0,306.3 L542.5,305.8 L543.0,305.4 L543.5,305.2 L544.0,305.2 L544.5,305.4 L545.0,305.7 L545.5,305.9 L546.0,306.2 L546.5,306.5 L547.0,306.8 L547.5,307.1 L548.0,307.4 L548.5,307.7 L549.0,307.8 L549.5,307.8 L550.0,307.6 L550.5,307.4 L551.0,307.1 L551.5,306.8 L552.0,306.5 L552.5,306.2 L553.0,305.9 L553.5,305.7 L554.0,305.5 L554.5,305.3 L555.0,305.1 L555.5,305.0 L556.0,304.8 L556.5,304.5 L557.0,304.1 L557.5,303.4 L558.0,302.2 L558.5,300.9 L559.0,299.5 L559.5,298.0 L560.0,296.3 L560.5,294.3 L561.0,292.1 L561.5,290.0 L562.0,288.0 L562.5,286.2 L563.0,284.9 L563.5,283.6 L564.0,282.3 L564.5,281.2 L565.0,280.2 L565.5,279.4 L566.0,279.0 L566.5,278.9 L567.0,279.3 L567.5,279.9 L568.0,280.6 L568.5,281.5 L569.0,282.3 L569.5,283.4 L570.0,284.6 L570.5,285.9 L571.0,287.4 L571.5,288.9 L572.0,290.5 L572.5,292.1 L573.0,293.7 L573.5,295.3 L574.0,297.1 L574.5,299.1 L575.0,301.1 L575.5,302.9 L576.0,304.9 L576.5,306.9 L577.0,308.7 L577.5,310.4 L578.0,311.8 L578.5,313.0 L579.0,314.1 L579.5,315.1 L580.0,316.0 L580.5,316.9 L581.0,317.7 L581.5,318.4 L582.0,319.1 L582.5,319.8 L583.0,320.4 L583.5,321.0 L584.0,321.5 L584.5,322.0 L585.0,322.5 L585.5,322.9 L586.0,323.3 L586.5,323.7 L587.0,324.1 L587.5,324.4 L588.0,324.8 L588.5,325.1 L589.0,325.4 L589.5,325.7 L590.0,326.1 L590.5,326.5 L591.0,326.8 L591.5,327.0 L592.0,327.2 L592.5,327.3 L593.0,327.3 L593.5,327.2 L594.0,327.1 L594.5,326.9 L595.0,326.6 L595.5,326.4 L596.0,326.1 L596.5,325.8 L597.0,325.6 L597.5,325.3 L598.0,325.0 L598.5,324.6 L599.0,324.2 L599.5,323.7 L600.0,323.2 L600.5,322.7 L601.0,322.2 L601.5,321.7 L602.0,321.3 L602.5,320.9 L603.0,320.4 L603.5,320.0 L604.0,319.6 L604.5,319.2 L605.0,318.8 L605.5,318.4 L606.0,318.0 L606.5,317.6 L607.0,317.3 L607.5,316.9 L608.0,316.6 L608.5,316.3 L609.0,316.1 L609.5,315.9 L610.0,315.7 L610.5,315.5 L611.0,315.3 L611.5,315.1 L612.0,314.9 L612.5,314.8 L613.0,314.6 L613.5,314.4 L614.0,314.3 L614.5,314.2 L615.0,314.0 L615.5,313.9 L616.0,313.8 L616.5,313.7 L617.0,313.6 L617.5,313.5 L618.0,313.5 L618.5,313.4 L619.0,313.3 L619.5,313.3 L620.0,313.2 L620.5,313.1 L621.0,313.1 L621.5,313.0 L622.0,313.0 L622.5,312.9 L623.0,312.9 L623.5,312.8 L624.0,312.8 L624.5,312.7 L625.0,312.7 L625.5,312.7 L626.0,312.6 L626.5,312.6 L627.0,312.6 L627.5,312.6 L627.5,316.2 L627.0,316.2 L626.5,316.2 L626.0,316.2 L625.5,316.3 L625.0,316.3 L624.5,316.3 L624.0,316.4 L623.5,316.4 L623.0,316.5 L622.5,316.5 L622.0,316.6 L621.5,316.6 L621.0,316.7 L620.5,316.7 L620.0,316.8 L619.5,316.9 L619.0,316.9 L618.5,317.0 L618.0,317.1 L617.5,317.1 L617.0,317.2 L616.5,317.3 L616.0,317.4 L615.5,317.5 L615.0,317.6 L614.5,317.8 L614.0,317.9 L613.5,318.0 L613.0,318.2 L612.5,318.4 L612.0,318.5 L611.5,318.7 L611.0,318.9 L610.5,319.1 L610.0,319.3 L609.5,319.5 L609.0,319.7 L608.5,319.9 L608.0,320.2 L607.5,320.5 L607.0,320.9 L606.5,321.3 L606.0,321.6 L605.5,322.1 L605.0,322.5 L604.5,322.9 L604.0,323.4 L603.5,323.8 L603.0,324.3 L602.5,324.8 L602.0,325.3 L601.5,325.8 L601.0,326.4 L600.5,327.0 L600.0,327.7 L599.5,328.3 L599.0,328.9 L598.5,329.5 L598.0,330.1 L597.5,330.6 L597.0,331.1 L596.5,331.6 L596.0,332.0 L595.5,332.5 L595.0,332.9 L594.5,333.3 L594.0,333.6 L593.5,333.9 L593.0,334.0 L592.5,334.1 L592.0,334.0 L591.5,333.8 L591.0,333.5 L590.5,333.1 L590.0,332.7 L589.5,332.2 L589.0,331.7 L588.5,331.2 L588.0,330.7 L587.5,330.2 L587.0,329.6 L586.5,329.1 L586.0,328.5 L585.5,327.9 L585.0,327.3 L584.5,326.6 L584.0,326.0 L583.5,325.3 L583.0,324.6 L582.5,323.9 L582.0,323.1 L581.5,322.4 L581.0,321.5 L580.5,320.7 L580.0,319.8 L579.5,318.8 L579.0,317.8 L578.5,316.7 L578.0,315.5 L577.5,314.0 L577.0,312.3 L576.5,310.5 L576.0,308.5 L575.5,306.5 L575.0,304.1 L574.5,302.1 L574.0,300.1 L573.5,298.3 L573.0,296.7 L572.5,295.1 L572.0,293.5 L571.5,291.9 L571.0,290.4 L570.5,288.9 L570.0,287.6 L569.5,286.4 L569.0,285.3 L568.5,284.5 L568.0,283.6 L567.5,282.9 L567.0,282.3 L566.5,281.9 L566.0,282.0 L565.5,282.4 L565.0,283.2 L564.5,284.2 L564.0,285.3 L563.5,286.6 L563.0,287.9 L562.5,289.2 L562.0,291.0 L561.5,293.0 L561.0,295.1 L560.5,297.3 L560.0,299.3 L559.5,301.0 L559.0,302.5 L558.5,303.9 L558.0,305.2 L557.5,306.4 L557.0,307.1 L556.5,307.5 L556.0,307.8 L555.5,308.0 L555.0,308.1 L554.5,308.3 L554.0,308.5 L553.5,308.7 L553.0,308.9 L552.5,309.2 L552.0,309.5 L551.5,309.8 L551.0,310.1 L550.5,310.4 L550.0,310.6 L549.5,310.8 L549.0,310.8 L548.5,310.7 L548.0,310.4 L547.5,310.1 L547.0,309.8 L546.5,309.5 L546.0,309.2 L545.5,308.9 L545.0,308.7 L544.5,308.4 L544.0,308.2 L543.5,308.2 L543.0,308.4 L542.5,308.8 L542.0,309.3 L541.5,309.9 L541.0,310.4 L540.5,310.9 L540.0,311.2 L539.5,311.3 L539.0,311.2 L538.5,311.0 L538.0,310.7 L537.5,310.5 L537.0,310.4 L536.5,310.5 L536.0,310.8 L535.5,311.1 L535.0,311.5 L534.5,311.8 L534.0,312.0 L533.5,312.1 L533.0,312.1 L532.5,312.1 L532.0,312.0 L531.5,311.9 L531.0,311.8 L530.5,311.6 Z" fill="#8a86d2"/><path d="M530.5,310.1 L531.0,310.3 L531.5,310.4 L532.0,310.5 L532.5,310.6 L533.0,310.6 L533.5,310.6 L534.0,310.5 L534.5,310.3 L535.0,310.0 L535.5,309.6 L536.0,309.3 L536.5,309.0 L537.0,308.9 L537.5,309.0 L538.0,309.2 L538.5,309.5 L539.0,309.7 L539.5,309.8 L540.0,309.7 L540.5,309.4 L541.0,308.9 L541.5,308.4 L542.0,307.8 L542.5,307.3 L543.0,306.9 L543.5,306.7 L544.0,306.7 L544.5,306.9 L545.0,307.2 L545.5,307.4 L546.0,307.7 L546.5,308.0 L547.0,308.3 L547.5,308.6 L548.0,308.9 L548.5,309.2 L549.0,309.3 L549.5,309.3 L550.0,309.1 L550.5,308.9 L551.0,308.6 L551.5,308.3 L552.0,308.0 L552.5,307.7 L553.0,307.4 L553.5,307.2 L554.0,307.0 L554.5,306.8 L555.0,306.6 L555.5,306.5 L556.0,306.3 L556.5,306.0 L557.0,305.6 L557.5,304.9 L558.0,303.7 L558.5,302.4 L559.0,301.0 L559.5,299.5 L560.0,297.8 L560.5,295.8 L561.0,293.6 L561.5,291.5 L562.0,289.5 L562.5,287.7 L563.0,286.4 L563.5,285.1 L564.0,283.8 L564.5,282.7 L565.0,281.7 L565.5,280.9 L566.0,280.5 L566.5,280.4 L567.0,280.8 L567.5,281.4 L568.0,282.1 L568.5,283.0 L569.0,283.8 L569.5,284.9 L570.0,286.1 L570.5,287.4 L571.0,288.9 L571.5,290.4 L572.0,292.0 L572.5,293.6 L573.0,295.2 L573.5,296.8 L574.0,298.6 L574.5,300.6 L575.0,302.6 L575.5,304.7 L576.0,306.7 L576.5,308.7 L577.0,310.5 L577.5,312.2 L578.0,313.7 L578.5,314.9 L579.0,315.9 L579.5,316.9 L580.0,317.9 L580.5,318.8 L581.0,319.6 L581.5,320.4 L582.0,321.1 L582.5,321.8 L583.0,322.5 L583.5,323.1 L584.0,323.7 L584.5,324.3 L585.0,324.9 L585.5,325.4 L586.0,325.9 L586.5,326.4 L587.0,326.9 L587.5,327.3 L588.0,327.7 L588.5,328.1 L589.0,328.5 L589.5,328.9 L590.0,329.4 L590.5,329.8 L591.0,330.1 L591.5,330.4 L592.0,330.6 L592.5,330.7 L593.0,330.7 L593.5,330.5 L594.0,330.3 L594.5,330.1 L595.0,329.8 L595.5,329.4 L596.0,329.1 L596.5,328.7 L597.0,328.3 L597.5,328.0 L598.0,327.6 L598.5,327.1 L599.0,326.5 L599.5,326.0 L600.0,325.4 L600.5,324.9 L601.0,324.3 L601.5,323.8 L602.0,323.3 L602.5,322.8 L603.0,322.4 L603.5,321.9 L604.0,321.5 L604.5,321.1 L605.0,320.6 L605.5,320.2 L606.0,319.8 L606.5,319.4 L607.0,319.1 L607.5,318.7 L608.0,318.4 L608.5,318.1 L609.0,317.9 L609.5,317.7 L610.0,317.5 L610.5,317.3 L611.0,317.1 L611.5,316.9 L612.0,316.7 L612.5,316.6 L613.0,316.4 L613.5,316.2 L614.0,316.1 L614.5,316.0 L615.0,315.8 L615.5,315.7 L616.0,315.6 L616.5,315.5 L617.0,315.4 L617.5,315.3 L618.0,315.3 L618.5,315.2 L619.0,315.1 L619.5,315.1 L620.0,315.0 L620.5,314.9 L621.0,314.9 L621.5,314.8 L622.0,314.8 L622.5,314.7 L623.0,314.7 L623.5,314.6 L624.0,314.6 L624.5,314.5 L625.0,314.5 L625.5,314.5 L626.0,314.4 L626.5,314.4 L627.0,314.4 L627.5,314.4" stroke="#1c147e" stroke-width="2.1" fill="none" stroke-linejoin="round" stroke-linecap="round"/>
  <!-- rearing bar -->
  <rect x="530.8" y="349.5" width="97.3" height="11.5" fill="url(#rear)"/>
  <text x="524.4" y="359.8" text-anchor="end" style="font-size:11px">Rearing</text>
  <!-- Motion axes -->
  <path d="M528.8,364.6 L528.8,436.8 L629.8,436.8" fill="none" stroke="#333" stroke-width="0.9"/>
  <path d="M528.8,373.7 L530.8,373.7 M528.8,399.5 L530.8,399.5 M528.8,425.3 L530.8,425.3 M593.8,436.8 L593.8,434.8 M629.8,436.8 L629.8,434.8" stroke="#333" stroke-width="0.8"/>
  <path d="M557.3,364.6 L557.3,436.8" stroke="#555" stroke-width="0.9"/>
  <g style="font-size:11px" text-anchor="end">
    <text x="524.2" y="377.6">6</text>
    <text x="524.2" y="403.8">5</text>
    <text x="524.2" y="429.8">4</text>
  </g>
  <g style="font-size:11px" text-anchor="middle">
    <text x="557.6" y="450.8">0</text>
    <text x="593.5" y="450.8">5</text>
    <text x="629.2" y="450.8">10</text>
    <text x="578.6" y="463.9">Time(s)</text>
  </g>
  <text transform="translate(492.6,402) rotate(-90)" text-anchor="middle" style="font-size:11px">Motion</text>
  <text transform="translate(506,403) rotate(-90)" text-anchor="middle" style="font-size:11px">(au)</text>
  <path d="M530.2,383.4 L530.7,383.0 L531.2,383.1 L531.7,381.9 L532.2,381.8 L532.7,381.4 L533.2,381.0 L533.7,379.3 L534.2,378.2 L534.7,376.3 L535.2,373.9 L535.7,372.9 L536.2,374.0 L536.7,375.3 L537.2,375.5 L537.7,375.5 L538.2,374.4 L538.7,373.4 L539.2,370.6 L539.7,368.7 L540.2,367.4 L540.7,366.0 L541.2,364.5 L541.7,364.1 L542.2,363.9 L542.7,364.5 L543.2,365.8 L543.7,367.0 L544.2,368.8 L544.7,369.4 L545.2,369.4 L545.7,368.1 L546.2,367.4 L546.7,366.7 L547.2,366.2 L547.7,366.8 L548.2,368.3 L548.7,368.7 L549.2,369.4 L549.7,370.8 L550.2,371.2 L550.7,372.9 L551.2,375.3 L551.7,378.1 L552.2,381.0 L552.7,383.0 L553.2,385.6 L553.7,388.4 L554.2,390.1 L554.7,391.8 L555.2,395.6 L555.7,398.6 L556.2,401.8 L556.7,406.5 L557.2,411.5 L557.7,417.1 L558.2,422.1 L558.7,424.7 L559.2,426.1 L559.7,427.0 L560.2,426.9 L560.7,427.4 L561.2,426.7 L561.7,425.6 L562.2,421.1 L562.7,413.7 L563.2,406.2 L563.7,400.3 L564.2,393.1 L564.7,387.3 L565.2,383.7 L565.7,379.5 L566.2,376.7 L566.7,377.0 L567.2,377.9 L567.7,378.5 L568.2,379.5 L568.7,379.9 L569.2,380.1 L569.7,379.5 L570.2,379.0 L570.7,379.4 L571.2,380.3 L571.7,381.0 L572.2,382.3 L572.7,383.6 L573.2,384.2 L573.7,385.8 L574.2,386.8 L574.7,387.5 L575.2,388.7 L575.7,390.9 L576.2,391.9 L576.7,392.9 L577.2,394.0 L577.7,395.7 L578.2,396.2 L578.7,396.6 L579.2,398.0 L579.7,398.9 L580.2,398.2 L580.7,399.0 L581.2,400.3 L581.7,401.3 L582.2,402.3 L582.7,403.3 L583.2,403.8 L583.7,404.5 L584.2,404.6 L584.7,404.3 L585.2,404.3 L585.7,404.1 L586.2,402.9 L586.7,402.4 L587.2,401.9 L587.7,401.9 L588.2,401.4 L588.7,401.9 L589.2,401.9 L589.7,401.9 L590.2,402.7 L590.7,402.6 L591.2,401.4 L591.7,399.8 L592.2,398.8 L592.7,397.3 L593.2,396.7 L593.7,397.3 L594.2,398.5 L594.7,399.3 L595.2,400.2 L595.7,401.5 L596.2,401.8 L596.7,402.5 L597.2,402.1 L597.7,402.1 L598.2,401.3 L598.7,401.4 L599.2,400.7 L599.7,401.3 L600.2,401.4 L600.7,402.9 L601.2,402.9 L601.7,403.4 L602.2,404.0 L602.7,404.1 L603.2,403.4 L603.7,403.5 L604.2,403.4 L604.7,402.7 L605.2,402.7 L605.7,402.5 L606.2,402.8 L606.7,402.7 L607.2,402.6 L607.7,402.1 L608.2,402.1 L608.7,401.1 L609.2,400.9 L609.7,401.5 L610.2,401.8 L610.7,402.1 L611.2,402.4 L611.7,401.8 L612.2,401.3 L612.7,401.4 L613.2,399.8 L613.7,399.8 L614.2,400.0 L614.7,399.6 L615.2,399.6 L615.7,400.8 L616.2,400.8 L616.7,402.1 L617.2,402.0 L617.7,402.5 L618.2,403.1 L618.7,403.2 L619.2,402.4 L619.7,403.6 L620.2,403.3 L620.7,403.4 L621.2,404.0 L621.7,404.5 L622.2,403.9 L622.7,403.3 L623.2,402.0 L623.7,400.9 L624.2,399.2 L624.7,398.4 L625.2,398.4 L625.7,398.6 L626.2,398.3 L626.7,399.1 L627.2,399.7 L627.7,400.3 L627.7,413.4 L627.2,412.3 L626.7,411.6 L626.2,411.5 L625.7,410.7 L625.2,410.9 L624.7,411.6 L624.2,411.9 L623.7,411.6 L623.2,412.0 L622.7,412.2 L622.2,412.7 L621.7,412.9 L621.2,413.6 L620.7,414.1 L620.2,413.9 L619.7,413.3 L619.2,414.2 L618.7,413.0 L618.2,412.8 L617.7,413.1 L617.2,413.3 L616.7,412.9 L616.2,413.8 L615.7,413.6 L615.2,414.5 L614.7,414.4 L614.2,414.0 L613.7,414.4 L613.2,414.6 L612.7,413.4 L612.2,413.9 L611.7,413.7 L611.2,413.5 L610.7,414.0 L610.2,414.4 L609.7,414.7 L609.2,415.3 L608.7,415.1 L608.2,414.1 L607.7,414.1 L607.2,413.6 L606.7,413.5 L606.2,413.4 L605.7,413.7 L605.2,413.8 L604.7,414.2 L604.2,414.1 L603.7,414.6 L603.2,415.4 L602.7,415.2 L602.2,415.6 L601.7,416.0 L601.2,415.5 L600.7,414.0 L600.2,413.8 L599.7,412.5 L599.2,412.1 L598.7,411.2 L598.2,411.7 L597.7,411.5 L597.2,412.2 L596.7,412.3 L596.2,413.1 L595.7,412.5 L595.2,412.1 L594.7,410.9 L594.2,409.7 L593.7,409.5 L593.2,410.0 L592.7,410.6 L592.2,411.2 L591.7,412.6 L591.2,413.3 L590.7,413.7 L590.2,414.1 L589.7,414.8 L589.2,414.7 L588.7,414.5 L588.2,414.9 L587.7,414.3 L587.2,414.5 L586.7,414.7 L586.2,414.9 L585.7,414.6 L585.2,415.2 L584.7,415.8 L584.2,415.6 L583.7,415.4 L583.2,415.6 L582.7,415.2 L582.2,415.1 L581.7,414.9 L581.2,414.6 L580.7,414.5 L580.2,413.9 L579.7,411.9 L579.2,411.4 L578.7,411.2 L578.2,409.8 L577.7,408.5 L577.2,408.2 L576.7,407.1 L576.2,405.6 L575.7,403.6 L575.2,402.5 L574.7,400.5 L574.2,398.4 L573.7,397.1 L573.2,396.8 L572.7,395.5 L572.2,395.2 L571.7,395.3 L571.2,394.9 L570.7,395.2 L570.2,394.9 L569.7,393.9 L569.2,392.7 L568.7,392.1 L568.2,391.2 L567.7,390.5 L567.2,389.6 L566.7,389.4 L566.2,389.4 L565.7,390.8 L565.2,393.9 L564.7,398.4 L564.2,403.1 L563.7,407.9 L563.2,414.0 L562.7,419.9 L562.2,427.1 L561.7,433.4 L561.2,435.3 L560.7,435.5 L560.2,436.3 L559.7,435.2 L559.2,433.6 L558.7,431.5 L558.2,429.0 L557.7,424.5 L557.2,419.3 L556.7,415.6 L556.2,413.5 L555.7,410.6 L555.2,407.8 L554.7,406.1 L554.2,402.4 L553.7,398.9 L553.2,396.8 L552.7,394.7 L552.2,392.4 L551.7,391.2 L551.2,389.8 L550.7,388.3 L550.2,386.6 L549.7,384.5 L549.2,384.3 L548.7,383.7 L548.2,383.0 L547.7,383.8 L547.2,384.6 L546.7,385.1 L546.2,385.8 L545.7,386.5 L545.2,386.3 L544.7,386.6 L544.2,386.5 L543.7,386.8 L543.2,386.2 L542.7,385.8 L542.2,385.1 L541.7,384.3 L541.2,384.6 L540.7,384.7 L540.2,385.8 L539.7,387.4 L539.2,388.5 L538.7,388.4 L538.2,389.5 L537.7,389.7 L537.2,389.7 L536.7,388.0 L536.2,386.8 L535.7,387.2 L535.2,388.0 L534.7,389.2 L534.2,391.2 L533.7,393.4 L533.2,393.2 L532.7,394.2 L532.2,394.9 L531.7,395.8 L531.2,395.3 L530.7,395.8 L530.2,395.3 Z" fill="#a9dfbe"/><path d="M530.2,389.4 L530.7,389.4 L531.2,389.2 L531.7,388.9 L532.2,388.4 L532.7,387.8 L533.2,387.1 L533.7,386.3 L534.2,384.7 L534.7,382.7 L535.2,381.0 L535.7,380.0 L536.2,380.4 L536.7,381.6 L537.2,382.6 L537.7,382.6 L538.2,382.0 L538.7,380.9 L539.2,379.5 L539.7,378.0 L540.2,376.6 L540.7,375.4 L541.2,374.5 L541.7,374.2 L542.2,374.5 L542.7,375.1 L543.2,376.0 L543.7,376.9 L544.2,377.6 L544.7,378.0 L545.2,377.8 L545.7,377.3 L546.2,376.6 L546.7,375.9 L547.2,375.4 L547.7,375.3 L548.2,375.6 L548.7,376.2 L549.2,376.9 L549.7,377.7 L550.2,378.9 L550.7,380.6 L551.2,382.5 L551.7,384.6 L552.2,386.7 L552.7,388.8 L553.2,391.2 L553.7,393.7 L554.2,396.3 L554.7,398.9 L555.2,401.7 L555.7,404.6 L556.2,407.7 L556.7,411.1 L557.2,415.4 L557.7,420.8 L558.2,425.5 L558.7,428.1 L559.2,429.8 L559.7,431.1 L560.2,431.6 L560.7,431.4 L561.2,431.0 L561.7,429.5 L562.2,424.1 L562.7,416.8 L563.2,410.1 L563.7,404.1 L564.2,398.1 L564.7,392.9 L565.2,388.8 L565.7,385.1 L566.2,383.1 L566.7,383.2 L567.2,383.7 L567.7,384.5 L568.2,385.4 L568.7,386.0 L569.2,386.4 L569.7,386.7 L570.2,387.0 L570.7,387.3 L571.2,387.6 L571.7,388.1 L572.2,388.8 L572.7,389.6 L573.2,390.5 L573.7,391.5 L574.2,392.6 L574.7,394.0 L575.2,395.6 L575.7,397.2 L576.2,398.8 L576.7,400.0 L577.2,401.1 L577.7,402.1 L578.2,403.0 L578.7,403.9 L579.2,404.7 L579.7,405.4 L580.2,406.1 L580.7,406.7 L581.2,407.4 L581.7,408.1 L582.2,408.7 L582.7,409.2 L583.2,409.7 L583.7,410.0 L584.2,410.1 L584.7,410.0 L585.2,409.8 L585.7,409.4 L586.2,408.9 L586.7,408.5 L587.2,408.2 L587.7,408.1 L588.2,408.1 L588.7,408.2 L589.2,408.3 L589.7,408.4 L590.2,408.4 L590.7,408.2 L591.2,407.4 L591.7,406.2 L592.2,405.0 L592.7,404.0 L593.2,403.4 L593.7,403.4 L594.2,404.1 L594.7,405.1 L595.2,406.1 L595.7,407.0 L596.2,407.5 L596.7,407.4 L597.2,407.2 L597.7,406.8 L598.2,406.5 L598.7,406.3 L599.2,406.4 L599.7,406.9 L600.2,407.6 L600.7,408.5 L601.2,409.2 L601.7,409.7 L602.2,409.8 L602.7,409.6 L603.2,409.4 L603.7,409.1 L604.2,408.8 L604.7,408.4 L605.2,408.2 L605.7,408.1 L606.2,408.1 L606.7,408.1 L607.2,408.1 L607.7,408.1 L608.2,408.1 L608.7,408.1 L609.2,408.1 L609.7,408.1 L610.2,408.1 L610.7,408.0 L611.2,407.9 L611.7,407.8 L612.2,407.6 L612.7,407.4 L613.2,407.2 L613.7,407.1 L614.2,407.0 L614.7,407.0 L615.2,407.1 L615.7,407.2 L616.2,407.3 L616.7,407.5 L617.2,407.6 L617.7,407.8 L618.2,408.0 L618.7,408.1 L619.2,408.3 L619.7,408.4 L620.2,408.6 L620.7,408.7 L621.2,408.8 L621.7,408.7 L622.2,408.3 L622.7,407.7 L623.2,407.0 L623.7,406.3 L624.2,405.6 L624.7,405.0 L625.2,404.7 L625.7,404.6 L626.2,404.9 L626.7,405.3 L627.2,406.0 L627.7,406.8" stroke="#33b566" stroke-width="1.8" fill="none" stroke-linejoin="round"/>
</g>
</svg>
</body></html>
